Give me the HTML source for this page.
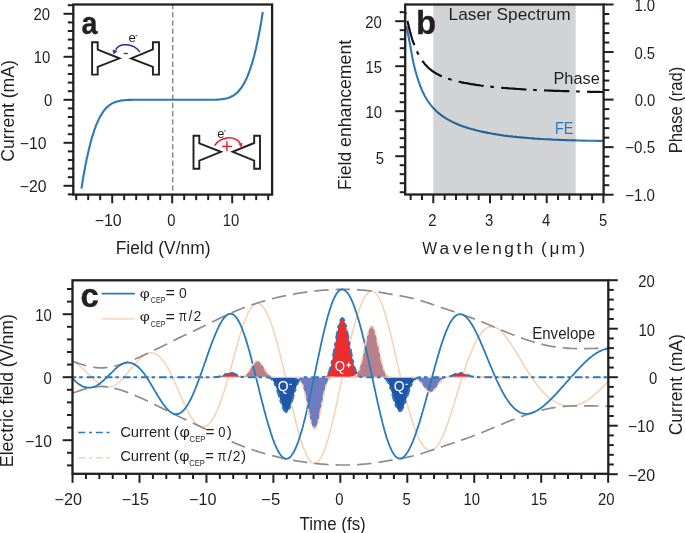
<!DOCTYPE html>
<html><head><meta charset="utf-8"><style>
html,body{margin:0;padding:0;background:#fff;}
svg{display:block;font-family:"Liberation Sans", sans-serif;}
</style></head><body>
<svg xmlns="http://www.w3.org/2000/svg" width="685" height="533" viewBox="0 0 685 533">
<rect width="685" height="533" fill="#fff"/>
<line x1="172.70" y1="4.50" x2="172.70" y2="194.60" stroke="#8C8C8C" stroke-width="1.5" stroke-dasharray="5.5,2.75" stroke-dashoffset="0.7"/>
<path d="M81.4,188.7 L82.2,183.9 L82.9,179.3 L83.7,174.8 L84.5,170.6 L85.2,166.5 L86.0,162.6 L86.7,158.9 L87.5,155.4 L88.3,152.0 L89.0,148.8 L89.8,145.7 L90.5,142.8 L91.3,140.0 L92.0,137.3 L92.8,134.8 L93.6,132.5 L94.3,130.2 L95.1,128.1 L95.8,126.1 L96.6,124.2 L97.4,122.4 L98.1,120.7 L98.9,119.1 L99.6,117.6 L100.4,116.2 L101.2,114.9 L101.9,113.6 L102.7,112.5 L103.4,111.4 L104.2,110.4 L104.9,109.5 L105.7,108.6 L106.5,107.8 L107.2,107.1 L108.0,106.4 L108.7,105.7 L109.5,105.1 L110.3,104.6 L111.0,104.1 L111.8,103.7 L112.5,103.2 L113.3,102.9 L114.1,102.5 L114.8,102.2 L115.6,101.9 L116.3,101.7 L117.1,101.4 L117.8,101.2 L118.6,101.1 L119.4,100.9 L120.1,100.7 L120.9,100.6 L121.6,100.5 L122.4,100.4 L123.2,100.3 L123.9,100.2 L124.7,100.2 L125.4,100.1 L126.2,100.1 L127.0,100.0 L127.7,100.0 L128.5,99.9 L129.2,99.9 L130.0,99.9 L130.7,99.9 L131.5,99.9 L132.3,99.8 L133.0,99.8 L133.8,99.8 L134.5,99.8 L135.3,99.8 L136.1,99.8 L136.8,99.8 L137.6,99.8 L138.3,99.8 L139.1,99.8 L139.9,99.8 L140.6,99.8 L141.4,99.8 L142.1,99.8 L142.9,99.8 L143.7,99.8 L144.4,99.8 L145.2,99.8 L145.9,99.8 L146.7,99.8 L147.4,99.8 L148.2,99.8 L149.0,99.8 L149.7,99.8 L150.5,99.8 L151.2,99.8 L152.0,99.8 L152.8,99.8 L153.5,99.8 L154.3,99.8 L155.0,99.8 L155.8,99.8 L156.6,99.8 L157.3,99.8 L158.1,99.8 L158.8,99.8 L159.6,99.8 L160.3,99.8 L161.1,99.8 L161.9,99.8 L162.6,99.8 L163.4,99.8 L164.1,99.8 L164.9,99.8 L165.7,99.8 L166.4,99.8 L167.2,99.8 L167.9,99.8 L168.7,99.8 L169.5,99.8 L170.2,99.8 L171.0,99.8 L171.7,99.8 L172.5,99.8 L173.2,99.8 L174.0,99.8 L174.8,99.8 L175.5,99.8 L176.3,99.8 L177.0,99.8 L177.8,99.8 L178.6,99.8 L179.3,99.8 L180.1,99.8 L180.8,99.8 L181.6,99.8 L182.4,99.8 L183.1,99.8 L183.9,99.8 L184.6,99.8 L185.4,99.8 L186.1,99.8 L186.9,99.8 L187.7,99.8 L188.4,99.8 L189.2,99.8 L189.9,99.8 L190.7,99.8 L191.5,99.8 L192.2,99.8 L193.0,99.8 L193.7,99.8 L194.5,99.8 L195.3,99.8 L196.0,99.8 L196.8,99.8 L197.5,99.8 L198.3,99.8 L199.1,99.8 L199.8,99.8 L200.6,99.8 L201.3,99.8 L202.1,99.8 L202.8,99.8 L203.6,99.8 L204.4,99.8 L205.1,99.8 L205.9,99.8 L206.6,99.8 L207.4,99.8 L208.2,99.8 L208.9,99.8 L209.7,99.8 L210.4,99.8 L211.2,99.8 L212.0,99.8 L212.7,99.7 L213.5,99.7 L214.2,99.7 L215.0,99.7 L215.7,99.7 L216.5,99.6 L217.3,99.6 L218.0,99.6 L218.8,99.5 L219.5,99.5 L220.3,99.4 L221.1,99.3 L221.8,99.2 L222.6,99.1 L223.3,99.0 L224.1,98.9 L224.9,98.8 L225.6,98.6 L226.4,98.4 L227.1,98.2 L227.9,98.0 L228.6,97.7 L229.4,97.5 L230.2,97.2 L230.9,96.8 L231.7,96.5 L232.4,96.0 L233.2,95.6 L234.0,95.1 L234.7,94.6 L235.5,94.0 L236.2,93.4 L237.0,92.7 L237.8,92.0 L238.5,91.2 L239.3,90.3 L240.0,89.4 L240.8,88.4 L241.6,87.4 L242.3,86.2 L243.1,85.0 L243.8,83.7 L244.6,82.3 L245.3,80.9 L246.1,79.3 L246.9,77.6 L247.6,75.9 L248.4,74.0 L249.1,72.0 L249.9,69.9 L250.7,67.7 L251.4,65.3 L252.2,62.9 L252.9,60.2 L253.7,57.5 L254.5,54.6 L255.2,51.6 L256.0,48.4 L256.7,45.0 L257.5,41.5 L258.2,37.9 L259.0,34.0 L259.8,30.0 L260.5,25.8 L261.3,21.4 L262.0,16.8 L262.8,12.0" fill="none" stroke="#2A7AB9" stroke-width="2.1"/>
<line x1="67.80" y1="194.40" x2="73.30" y2="194.40" stroke="#231F20" stroke-width="2" />
<line x1="63.50" y1="185.80" x2="73.30" y2="185.80" stroke="#231F20" stroke-width="2" />
<line x1="67.80" y1="177.20" x2="73.30" y2="177.20" stroke="#231F20" stroke-width="2" />
<line x1="67.80" y1="168.60" x2="73.30" y2="168.60" stroke="#231F20" stroke-width="2" />
<line x1="67.80" y1="160.00" x2="73.30" y2="160.00" stroke="#231F20" stroke-width="2" />
<line x1="67.80" y1="151.40" x2="73.30" y2="151.40" stroke="#231F20" stroke-width="2" />
<line x1="63.50" y1="142.80" x2="73.30" y2="142.80" stroke="#231F20" stroke-width="2" />
<line x1="67.80" y1="134.20" x2="73.30" y2="134.20" stroke="#231F20" stroke-width="2" />
<line x1="67.80" y1="125.60" x2="73.30" y2="125.60" stroke="#231F20" stroke-width="2" />
<line x1="67.80" y1="117.00" x2="73.30" y2="117.00" stroke="#231F20" stroke-width="2" />
<line x1="67.80" y1="108.40" x2="73.30" y2="108.40" stroke="#231F20" stroke-width="2" />
<line x1="63.50" y1="99.80" x2="73.30" y2="99.80" stroke="#231F20" stroke-width="2" />
<line x1="67.80" y1="91.20" x2="73.30" y2="91.20" stroke="#231F20" stroke-width="2" />
<line x1="67.80" y1="82.60" x2="73.30" y2="82.60" stroke="#231F20" stroke-width="2" />
<line x1="67.80" y1="74.00" x2="73.30" y2="74.00" stroke="#231F20" stroke-width="2" />
<line x1="67.80" y1="65.40" x2="73.30" y2="65.40" stroke="#231F20" stroke-width="2" />
<line x1="63.50" y1="56.80" x2="73.30" y2="56.80" stroke="#231F20" stroke-width="2" />
<line x1="67.80" y1="48.20" x2="73.30" y2="48.20" stroke="#231F20" stroke-width="2" />
<line x1="67.80" y1="39.60" x2="73.30" y2="39.60" stroke="#231F20" stroke-width="2" />
<line x1="67.80" y1="31.00" x2="73.30" y2="31.00" stroke="#231F20" stroke-width="2" />
<line x1="67.80" y1="22.40" x2="73.30" y2="22.40" stroke="#231F20" stroke-width="2" />
<line x1="63.50" y1="13.80" x2="73.30" y2="13.80" stroke="#231F20" stroke-width="2" />
<line x1="67.80" y1="5.20" x2="73.30" y2="5.20" stroke="#231F20" stroke-width="2" />
<line x1="76.20" y1="194.60" x2="76.20" y2="200.10" stroke="#231F20" stroke-width="2" />
<line x1="88.20" y1="194.60" x2="88.20" y2="200.10" stroke="#231F20" stroke-width="2" />
<line x1="100.20" y1="194.60" x2="100.20" y2="200.10" stroke="#231F20" stroke-width="2" />
<line x1="112.20" y1="194.60" x2="112.20" y2="203.30" stroke="#231F20" stroke-width="2" />
<line x1="124.20" y1="194.60" x2="124.20" y2="200.10" stroke="#231F20" stroke-width="2" />
<line x1="136.20" y1="194.60" x2="136.20" y2="200.10" stroke="#231F20" stroke-width="2" />
<line x1="148.20" y1="194.60" x2="148.20" y2="200.10" stroke="#231F20" stroke-width="2" />
<line x1="160.20" y1="194.60" x2="160.20" y2="200.10" stroke="#231F20" stroke-width="2" />
<line x1="172.20" y1="194.60" x2="172.20" y2="203.30" stroke="#231F20" stroke-width="2" />
<line x1="184.20" y1="194.60" x2="184.20" y2="200.10" stroke="#231F20" stroke-width="2" />
<line x1="196.20" y1="194.60" x2="196.20" y2="200.10" stroke="#231F20" stroke-width="2" />
<line x1="208.20" y1="194.60" x2="208.20" y2="200.10" stroke="#231F20" stroke-width="2" />
<line x1="220.20" y1="194.60" x2="220.20" y2="200.10" stroke="#231F20" stroke-width="2" />
<line x1="232.20" y1="194.60" x2="232.20" y2="203.30" stroke="#231F20" stroke-width="2" />
<line x1="244.20" y1="194.60" x2="244.20" y2="200.10" stroke="#231F20" stroke-width="2" />
<line x1="256.20" y1="194.60" x2="256.20" y2="200.10" stroke="#231F20" stroke-width="2" />
<line x1="268.20" y1="194.60" x2="268.20" y2="200.10" stroke="#231F20" stroke-width="2" />
<rect x="73.3" y="4.5" width="198.80" height="190.10" fill="none" stroke="#231F20" stroke-width="2.3"/>
<text x="33.56" y="19.80" font-size="15.8" fill="#231F20" textLength="16.52" lengthAdjust="spacingAndGlyphs">20</text>
<text x="33.81" y="62.80" font-size="15.8" fill="#231F20" textLength="16.52" lengthAdjust="spacingAndGlyphs">10</text>
<text x="43.92" y="105.80" font-size="15.8" fill="#231F20" textLength="8.26" lengthAdjust="spacingAndGlyphs">0</text>
<text x="19.82" y="149.20" font-size="15.8" fill="#231F20" textLength="26.69" lengthAdjust="spacingAndGlyphs">−10</text>
<text x="19.82" y="192.20" font-size="15.8" fill="#231F20" textLength="26.69" lengthAdjust="spacingAndGlyphs">−20</text>
<text x="94.71" y="226.30" font-size="15.8" fill="#231F20" textLength="27.01" lengthAdjust="spacingAndGlyphs">−10</text>
<text x="167.32" y="226.30" font-size="15.8" fill="#231F20" textLength="8.26" lengthAdjust="spacingAndGlyphs">0</text>
<text x="222.86" y="226.30" font-size="15.8" fill="#231F20" textLength="16.52" lengthAdjust="spacingAndGlyphs">10</text>
<text x="115.67" y="253.90" font-size="17.5" fill="#231F20" textLength="94.91" lengthAdjust="spacingAndGlyphs">Field (V/nm)</text>
<text transform="translate(13.50,111.10) rotate(-90)" x="-50.69" y="0" font-size="17.5" fill="#231F20" textLength="101.58" lengthAdjust="spacingAndGlyphs">Current (mA)</text>
<text x="81.61" y="34.45" font-size="32.1" fill="#231F20" font-weight="bold" stroke="#231F20" stroke-width="0.35" textLength="15.96" lengthAdjust="spacingAndGlyphs">a</text>
<path d="M92.10,42.30 L97.70,42.30 L97.70,49.60 L119.50,58.30 L97.70,66.90 L97.70,74.60 L92.10,74.60 Z" fill="none" stroke="#231F20" stroke-width="1.9" stroke-linejoin="miter"/>
<path d="M159.00,42.30 L152.90,42.30 L152.90,49.40 L131.10,58.40 L152.90,66.90 L152.90,74.60 L159.00,74.60 Z" fill="none" stroke="#231F20" stroke-width="1.9" stroke-linejoin="miter"/>
<path d="M139.8,52.1 C134,43.2 119,42 115.6,50.2" fill="none" stroke="#2E3192" stroke-width="1.5"/>
<path d="M113.6,53.9 L112.9,49.9 L117.0,51.3 Z" fill="#2E3192" stroke="#2E3192" stroke-width="0.6" stroke-linejoin="round"/>
<line x1="123.60" y1="53.50" x2="127.80" y2="53.50" stroke="#2E3192" stroke-width="1.3" />
<text x="128.44" y="42.20" font-size="13.2" fill="#231F20">e</text>
<line x1="135.60" y1="35.70" x2="137.20" y2="35.70" stroke="#231F20" stroke-width="0.9" />
<path d="M193.50,135.70 L199.30,135.70 L199.30,143.30 L221.00,151.80 L199.30,160.60 L199.30,168.80 L193.50,168.80 Z" fill="none" stroke="#231F20" stroke-width="1.9" stroke-linejoin="miter"/>
<path d="M260.00,135.70 L254.20,135.70 L254.20,143.00 L232.60,151.80 L254.20,160.60 L254.20,168.80 L260.00,168.80 Z" fill="none" stroke="#231F20" stroke-width="1.9" stroke-linejoin="miter"/>
<path d="M214.6,145.7 C219,138 234,133.5 240.6,144.0" fill="none" stroke="#ED1C24" stroke-width="1.5"/>
<path d="M241.2,147.3 L239.0,144.0 L242.3,143.6 Z" fill="#ED1C24" stroke="#ED1C24" stroke-width="0.6" stroke-linejoin="round"/>
<line x1="222.10" y1="146.40" x2="232.00" y2="146.40" stroke="#ED1C24" stroke-width="1.4" />
<line x1="226.90" y1="141.20" x2="226.90" y2="151.10" stroke="#ED1C24" stroke-width="1.4" />
<text x="217.35" y="137.70" font-size="12.8" fill="#231F20">e</text>
<line x1="224.00" y1="130.80" x2="225.40" y2="130.80" stroke="#231F20" stroke-width="0.9" />
<defs><clipPath id="cb"><rect x="405.20" y="-3.50" width="198.40" height="198.00"/></clipPath><clipPath id="cc"><rect x="72.5" y="280.3" width="535.8" height="193.5"/></clipPath></defs>
<path clip-path="url(#cb)" d="M406.6,26.4 L406.9,28.4 L407.3,30.3 L407.6,32.1 L408.0,33.9 L408.3,35.6 L408.7,37.3 L409.0,39.0 L409.3,40.7 L409.7,42.5 L410.0,44.3 L410.4,46.2 L410.7,48.2 L411.1,50.2 L411.4,52.2 L411.8,54.1 L412.1,56.0 L412.4,57.9 L412.8,59.7 L413.1,61.3 L413.5,62.9 L413.8,64.4 L414.2,65.9 L414.5,67.3 L414.9,68.7 L415.2,70.0 L415.5,71.2 L415.9,72.5 L416.2,73.7 L416.6,74.8 L416.9,76.0 L417.3,77.1 L417.6,78.2 L418.0,79.3 L418.3,80.4 L418.6,81.4 L419.0,82.5 L419.3,83.4 L419.7,84.4 L420.0,85.3 L420.4,86.2 L420.7,87.1 L421.1,88.0 L421.4,88.8 L421.7,89.6 L422.1,90.4 L422.4,91.2 L422.8,91.9 L423.1,92.7 L423.5,93.4 L423.8,94.1 L424.2,94.7 L424.5,95.4 L424.8,96.0 L425.2,96.7 L425.5,97.3 L425.9,97.9 L426.2,98.5 L426.6,99.0 L426.9,99.6 L427.3,100.1 L427.6,100.7 L427.9,101.2 L428.3,101.7 L428.6,102.2 L429.0,102.7 L429.3,103.2 L429.7,103.6 L430.0,104.1 L430.4,104.5 L430.7,105.0 L431.0,105.4 L431.4,105.8 L431.7,106.2 L432.1,106.6 L432.4,107.0 L432.8,107.4 L433.1,107.8 L433.5,108.2 L433.8,108.6 L434.1,108.9 L434.5,109.3 L434.8,109.6 L435.2,110.0 L435.5,110.3 L435.9,110.7 L436.2,111.0 L436.6,111.3 L436.9,111.6 L437.2,111.9 L437.6,112.2 L437.9,112.5 L438.3,112.8 L438.6,113.1 L439.0,113.4 L439.3,113.7 L439.7,114.0 L440.0,114.2 L440.5,114.6 L442.9,116.3 L445.2,117.9 L447.6,119.3 L450.0,120.6 L452.3,121.9 L454.7,123.0 L457.0,124.0 L459.4,125.0 L461.8,125.9 L464.1,126.7 L466.5,127.5 L468.9,128.3 L471.2,129.0 L473.6,129.6 L476.0,130.3 L478.3,130.8 L480.7,131.4 L483.0,131.9 L485.4,132.4 L487.8,132.9 L490.1,133.3 L492.5,133.7 L494.9,134.1 L497.2,134.5 L499.6,134.9 L502.0,135.2 L504.3,135.6 L506.7,135.9 L509.0,136.2 L511.4,136.4 L513.8,136.7 L516.1,136.9 L518.5,137.2 L520.9,137.4 L523.2,137.6 L525.6,137.8 L528.0,138.0 L530.3,138.2 L532.7,138.4 L535.1,138.6 L537.4,138.7 L539.8,138.9 L542.1,139.0 L544.5,139.2 L546.9,139.3 L549.2,139.4 L551.6,139.5 L554.0,139.7 L556.3,139.8 L558.7,139.9 L561.1,140.0 L563.4,140.0 L565.8,140.1 L568.1,140.2 L570.5,140.3 L572.9,140.4 L575.2,140.4 L577.6,140.5 L580.0,140.5 L582.3,140.6 L584.7,140.6 L587.1,140.7 L589.4,140.7 L591.8,140.8 L594.1,140.8 L596.5,140.9 L598.9,140.9 L601.2,140.9 L603.6,140.9" fill="none" stroke="#2A7AB9" stroke-width="2.1"/>
<path clip-path="url(#cb)" d="M405.9,12.7 L406.2,14.6 L406.6,16.4 L406.9,18.1 L407.3,19.8 L407.6,21.4 L408.0,23.0 L408.3,24.6 L408.7,26.1 L409.0,27.5 L409.3,28.9 L409.7,30.3 L410.0,31.6 L410.4,32.9 L410.7,34.2 L411.1,35.4 L411.4,36.5 L411.8,37.7 L412.1,38.8 L412.4,39.8 L412.8,40.9 L413.1,41.9 L413.5,42.9 L413.8,43.8 L414.2,44.7 L414.5,45.6 L414.9,46.5 L415.2,47.4 L415.5,48.2 L415.9,49.0 L416.2,49.8 L416.6,50.5 L416.9,51.3 L417.3,52.0 L417.6,52.7 L418.0,53.4 L418.3,54.1 L418.6,54.7 L419.0,55.3 L419.3,56.0 L419.7,56.6 L420.0,57.2 L420.4,57.7 L420.7,58.3 L421.1,58.8 L421.4,59.4 L421.7,59.9 L422.1,60.4 L422.4,60.9 L422.8,61.4 L423.1,61.8 L423.5,62.3 L423.8,62.7 L424.2,63.2 L424.5,63.6 L424.8,64.0 L425.2,64.4 L425.5,64.8 L425.9,65.2 L426.2,65.6 L426.6,65.9 L426.9,66.3 L427.3,66.6 L427.6,67.0 L427.9,67.3 L428.3,67.6 L428.6,68.0 L429.0,68.3 L429.3,68.6 L429.7,68.9 L430.0,69.2 L430.4,69.4 L430.7,69.7 L431.0,70.0 L431.4,70.3 L431.7,70.5 L432.1,70.8 L432.4,71.0 L432.8,71.3 L433.1,71.5 L433.5,71.7 L433.8,72.0 L434.1,72.2 L434.5,72.4 L434.8,72.6 L435.2,72.9 L435.5,73.1 L435.9,73.3 L436.2,73.5 L436.6,73.7 L436.9,73.9 L437.2,74.1 L437.6,74.2 L437.9,74.4 L438.3,74.6 L438.6,74.8 L439.0,75.0 L439.3,75.1 L439.7,75.3 L440.0,75.5 L440.5,75.7 L442.9,76.7 L445.2,77.7 L447.6,78.5 L450.0,79.3 L452.3,80.0 L454.7,80.6 L457.0,81.2 L459.4,81.8 L461.8,82.3 L464.1,82.8 L466.5,83.2 L468.9,83.7 L471.2,84.1 L473.6,84.4 L476.0,84.8 L478.3,85.1 L480.7,85.5 L483.0,85.8 L485.4,86.1 L487.8,86.3 L490.1,86.6 L492.5,86.9 L494.9,87.1 L497.2,87.3 L499.6,87.6 L502.0,87.8 L504.3,88.0 L506.7,88.2 L509.0,88.4 L511.4,88.5 L513.8,88.7 L516.1,88.9 L518.5,89.0 L520.9,89.2 L523.2,89.3 L525.6,89.5 L528.0,89.6 L530.3,89.7 L532.7,89.9 L535.1,90.0 L537.4,90.1 L539.8,90.2 L542.1,90.3 L544.5,90.4 L546.9,90.5 L549.2,90.6 L551.6,90.7 L554.0,90.8 L556.3,90.9 L558.7,90.9 L561.1,91.0 L563.4,91.1 L565.8,91.2 L568.1,91.2 L570.5,91.3 L572.9,91.4 L575.2,91.4 L577.6,91.5 L580.0,91.5 L582.3,91.6 L584.7,91.7 L587.1,91.7 L589.4,91.8 L591.8,91.8 L594.1,91.9 L596.5,91.9 L598.9,91.9 L601.2,92.0 L603.6,92.0" fill="none" stroke="#111" stroke-width="2.2" stroke-dasharray="25.3,6.8,3.6,7.3" stroke-dashoffset="34.71"/>
<rect x="433.30" y="4.5" width="142.40" height="190.0" fill="#D1D3D4" style="mix-blend-mode:multiply"/>
<text x="448.58" y="20.00" font-size="16.6" fill="#231F20" textLength="121.96" lengthAdjust="spacingAndGlyphs">Laser Spectrum</text>
<text x="553.46" y="84.10" font-size="16" fill="#231F20" textLength="46.26" lengthAdjust="spacingAndGlyphs">Phase</text>
<text x="555.02" y="134.10" font-size="17.4" fill="#2A7AB9" textLength="18.40" lengthAdjust="spacingAndGlyphs">FE</text>
<line x1="399.70" y1="192.20" x2="405.20" y2="192.20" stroke="#231F20" stroke-width="2" />
<line x1="399.70" y1="183.20" x2="405.20" y2="183.20" stroke="#231F20" stroke-width="2" />
<line x1="399.70" y1="174.20" x2="405.20" y2="174.20" stroke="#231F20" stroke-width="2" />
<line x1="399.70" y1="165.20" x2="405.20" y2="165.20" stroke="#231F20" stroke-width="2" />
<line x1="395.20" y1="156.20" x2="405.20" y2="156.20" stroke="#231F20" stroke-width="2" />
<line x1="399.70" y1="147.20" x2="405.20" y2="147.20" stroke="#231F20" stroke-width="2" />
<line x1="399.70" y1="138.20" x2="405.20" y2="138.20" stroke="#231F20" stroke-width="2" />
<line x1="399.70" y1="129.20" x2="405.20" y2="129.20" stroke="#231F20" stroke-width="2" />
<line x1="399.70" y1="120.20" x2="405.20" y2="120.20" stroke="#231F20" stroke-width="2" />
<line x1="395.20" y1="111.20" x2="405.20" y2="111.20" stroke="#231F20" stroke-width="2" />
<line x1="399.70" y1="102.20" x2="405.20" y2="102.20" stroke="#231F20" stroke-width="2" />
<line x1="399.70" y1="93.20" x2="405.20" y2="93.20" stroke="#231F20" stroke-width="2" />
<line x1="399.70" y1="84.20" x2="405.20" y2="84.20" stroke="#231F20" stroke-width="2" />
<line x1="399.70" y1="75.20" x2="405.20" y2="75.20" stroke="#231F20" stroke-width="2" />
<line x1="395.20" y1="66.20" x2="405.20" y2="66.20" stroke="#231F20" stroke-width="2" />
<line x1="399.70" y1="57.20" x2="405.20" y2="57.20" stroke="#231F20" stroke-width="2" />
<line x1="399.70" y1="48.20" x2="405.20" y2="48.20" stroke="#231F20" stroke-width="2" />
<line x1="399.70" y1="39.20" x2="405.20" y2="39.20" stroke="#231F20" stroke-width="2" />
<line x1="399.70" y1="30.20" x2="405.20" y2="30.20" stroke="#231F20" stroke-width="2" />
<line x1="395.20" y1="21.20" x2="405.20" y2="21.20" stroke="#231F20" stroke-width="2" />
<line x1="399.70" y1="12.20" x2="405.20" y2="12.20" stroke="#231F20" stroke-width="2" />
<line x1="410.62" y1="194.50" x2="410.62" y2="200.00" stroke="#231F20" stroke-width="2" />
<line x1="421.96" y1="194.50" x2="421.96" y2="200.00" stroke="#231F20" stroke-width="2" />
<line x1="433.30" y1="194.50" x2="433.30" y2="203.20" stroke="#231F20" stroke-width="2" />
<line x1="444.64" y1="194.50" x2="444.64" y2="200.00" stroke="#231F20" stroke-width="2" />
<line x1="455.98" y1="194.50" x2="455.98" y2="200.00" stroke="#231F20" stroke-width="2" />
<line x1="467.32" y1="194.50" x2="467.32" y2="200.00" stroke="#231F20" stroke-width="2" />
<line x1="478.66" y1="194.50" x2="478.66" y2="200.00" stroke="#231F20" stroke-width="2" />
<line x1="490.00" y1="194.50" x2="490.00" y2="203.20" stroke="#231F20" stroke-width="2" />
<line x1="501.34" y1="194.50" x2="501.34" y2="200.00" stroke="#231F20" stroke-width="2" />
<line x1="512.68" y1="194.50" x2="512.68" y2="200.00" stroke="#231F20" stroke-width="2" />
<line x1="524.02" y1="194.50" x2="524.02" y2="200.00" stroke="#231F20" stroke-width="2" />
<line x1="535.36" y1="194.50" x2="535.36" y2="200.00" stroke="#231F20" stroke-width="2" />
<line x1="546.70" y1="194.50" x2="546.70" y2="203.20" stroke="#231F20" stroke-width="2" />
<line x1="558.04" y1="194.50" x2="558.04" y2="200.00" stroke="#231F20" stroke-width="2" />
<line x1="569.38" y1="194.50" x2="569.38" y2="200.00" stroke="#231F20" stroke-width="2" />
<line x1="580.72" y1="194.50" x2="580.72" y2="200.00" stroke="#231F20" stroke-width="2" />
<line x1="592.06" y1="194.50" x2="592.06" y2="200.00" stroke="#231F20" stroke-width="2" />
<line x1="603.40" y1="194.50" x2="603.40" y2="203.20" stroke="#231F20" stroke-width="2" />
<line x1="603.60" y1="194.70" x2="613.60" y2="194.70" stroke="#231F20" stroke-width="2" />
<line x1="603.60" y1="185.19" x2="609.30" y2="185.19" stroke="#231F20" stroke-width="2" />
<line x1="603.60" y1="175.68" x2="609.30" y2="175.68" stroke="#231F20" stroke-width="2" />
<line x1="603.60" y1="166.17" x2="609.30" y2="166.17" stroke="#231F20" stroke-width="2" />
<line x1="603.60" y1="156.66" x2="609.30" y2="156.66" stroke="#231F20" stroke-width="2" />
<line x1="603.60" y1="147.15" x2="613.60" y2="147.15" stroke="#231F20" stroke-width="2" />
<line x1="603.60" y1="137.64" x2="609.30" y2="137.64" stroke="#231F20" stroke-width="2" />
<line x1="603.60" y1="128.13" x2="609.30" y2="128.13" stroke="#231F20" stroke-width="2" />
<line x1="603.60" y1="118.62" x2="609.30" y2="118.62" stroke="#231F20" stroke-width="2" />
<line x1="603.60" y1="109.11" x2="609.30" y2="109.11" stroke="#231F20" stroke-width="2" />
<line x1="603.60" y1="99.60" x2="613.60" y2="99.60" stroke="#231F20" stroke-width="2" />
<line x1="603.60" y1="90.09" x2="609.30" y2="90.09" stroke="#231F20" stroke-width="2" />
<line x1="603.60" y1="80.58" x2="609.30" y2="80.58" stroke="#231F20" stroke-width="2" />
<line x1="603.60" y1="71.07" x2="609.30" y2="71.07" stroke="#231F20" stroke-width="2" />
<line x1="603.60" y1="61.56" x2="609.30" y2="61.56" stroke="#231F20" stroke-width="2" />
<line x1="603.60" y1="52.05" x2="613.60" y2="52.05" stroke="#231F20" stroke-width="2" />
<line x1="603.60" y1="42.54" x2="609.30" y2="42.54" stroke="#231F20" stroke-width="2" />
<line x1="603.60" y1="33.03" x2="609.30" y2="33.03" stroke="#231F20" stroke-width="2" />
<line x1="603.60" y1="23.52" x2="609.30" y2="23.52" stroke="#231F20" stroke-width="2" />
<line x1="603.60" y1="14.01" x2="609.30" y2="14.01" stroke="#231F20" stroke-width="2" />
<line x1="603.60" y1="4.50" x2="613.60" y2="4.50" stroke="#231F20" stroke-width="2" />
<rect x="405.2" y="4.5" width="198.40" height="190.00" fill="none" stroke="#231F20" stroke-width="2.3"/>
<text x="365.31" y="27.80" font-size="15.8" fill="#231F20" textLength="16.52" lengthAdjust="spacingAndGlyphs">20</text>
<text x="365.44" y="72.60" font-size="15.8" fill="#231F20" textLength="16.52" lengthAdjust="spacingAndGlyphs">15</text>
<text x="365.41" y="118.10" font-size="15.8" fill="#231F20" textLength="16.52" lengthAdjust="spacingAndGlyphs">10</text>
<text x="375.63" y="163.60" font-size="15.8" fill="#231F20" textLength="8.26" lengthAdjust="spacingAndGlyphs">5</text>
<text x="428.37" y="226.10" font-size="15.8" fill="#231F20" textLength="8.26" lengthAdjust="spacingAndGlyphs">2</text>
<text x="485.11" y="226.10" font-size="15.8" fill="#231F20" textLength="8.26" lengthAdjust="spacingAndGlyphs">3</text>
<text x="541.92" y="226.10" font-size="15.8" fill="#231F20" textLength="8.26" lengthAdjust="spacingAndGlyphs">4</text>
<text x="598.88" y="226.10" font-size="15.8" fill="#231F20" textLength="8.26" lengthAdjust="spacingAndGlyphs">5</text>
<text x="634.45" y="10.60" font-size="15.8" fill="#231F20" textLength="20.65" lengthAdjust="spacingAndGlyphs">1.0</text>
<text x="634.45" y="59.00" font-size="15.8" fill="#231F20" textLength="20.65" lengthAdjust="spacingAndGlyphs">0.5</text>
<text x="634.73" y="106.20" font-size="15.8" fill="#231F20" textLength="20.65" lengthAdjust="spacingAndGlyphs">0.0</text>
<text x="625.26" y="153.20" font-size="15.8" fill="#231F20" textLength="29.78" lengthAdjust="spacingAndGlyphs">−0.5</text>
<text x="625.26" y="201.10" font-size="15.8" fill="#231F20" textLength="29.73" lengthAdjust="spacingAndGlyphs">−1.0</text>
<text x="422.21" y="254.30" font-size="17.3" fill="#231F20" textLength="14.77" lengthAdjust="spacingAndGlyphs">W</text>
<text x="439.47" y="254.30" font-size="17.3" fill="#231F20">a</text>
<text x="452.43" y="254.30" font-size="17.3" fill="#231F20">v</text>
<text x="463.16" y="254.30" font-size="17.3" fill="#231F20">e</text>
<text x="475.52" y="254.30" font-size="17.3" fill="#231F20">l</text>
<text x="480.31" y="254.30" font-size="17.3" fill="#231F20">e</text>
<text x="492.33" y="254.30" font-size="17.3" fill="#231F20">n</text>
<text x="504.13" y="254.30" font-size="17.3" fill="#231F20">g</text>
<text x="516.58" y="254.30" font-size="17.3" fill="#231F20">t</text>
<text x="523.70" y="254.30" font-size="17.3" fill="#231F20">h</text>
<text x="541.08" y="254.30" font-size="17.3" fill="#231F20">(</text>
<text x="549.47" y="254.30" font-size="17.3" fill="#231F20">μ</text>
<text x="561.59" y="254.30" font-size="17.3" fill="#231F20">m</text>
<text x="579.26" y="254.30" font-size="17.3" fill="#231F20">)</text>
<text transform="translate(351.30,114.30) rotate(-90)" x="-75.75" y="0" font-size="17.5" fill="#231F20" textLength="150.18" lengthAdjust="spacingAndGlyphs">Field enhancement</text>
<text transform="translate(681.60,109.85) rotate(-90)" x="-43.51" y="0" font-size="17.5" fill="#231F20" textLength="86.69" lengthAdjust="spacingAndGlyphs">Phase (rad)</text>
<text x="416.03" y="34.30" font-size="32.8" fill="#231F20" font-weight="bold" stroke="#231F20" stroke-width="0.35" textLength="20.12" lengthAdjust="spacingAndGlyphs">b</text>
<path clip-path="url(#cc)" d="M72.6,361.3 L73.2,361.6 L73.9,361.9 L74.6,362.3 L75.2,362.7 L75.9,363.1 L76.6,363.6 L77.2,364.1 L77.9,364.6 L78.6,365.1 L79.2,365.7 L79.9,366.2 L80.6,366.8 L81.3,367.4 L81.9,368.0 L82.6,368.6 L83.3,369.2 L83.9,369.8 L84.6,370.5 L85.3,371.1 L85.9,371.7 L86.6,372.4 L87.3,373.0 L87.9,373.7 L88.6,374.3 L89.3,374.9 L90.0,375.6 L90.6,376.2 L91.3,376.8 L92.0,377.4 L92.6,378.1 L93.3,378.7 L94.0,379.3 L94.6,379.9 L95.3,380.5 L96.0,381.1 L96.7,381.7 L97.3,382.2 L98.0,382.7 L98.7,383.2 L99.3,383.7 L100.0,384.2 L100.7,384.6 L101.3,385.0 L102.0,385.3 L102.7,385.7 L103.3,386.0 L104.0,386.2 L104.7,386.4 L105.4,386.6 L106.0,386.8 L106.7,386.9 L107.4,386.9 L108.0,387.0 L108.7,387.0 L109.4,387.0 L110.0,386.9 L110.7,386.8 L111.4,386.6 L112.1,386.4 L112.7,386.2 L113.4,385.9 L114.1,385.6 L114.7,385.3 L115.4,384.9 L116.1,384.4 L116.7,384.0 L117.4,383.5 L118.1,382.9 L118.7,382.4 L119.4,381.8 L120.1,381.1 L120.8,380.5 L121.4,379.8 L122.1,379.1 L122.8,378.4 L123.4,377.6 L124.1,376.9 L124.8,376.1 L125.4,375.4 L126.1,374.6 L126.8,373.8 L127.4,373.0 L128.1,372.2 L128.8,371.4 L129.5,370.6 L130.1,369.8 L130.8,369.0 L131.5,368.2 L132.1,367.3 L132.8,366.5 L133.5,365.8 L134.1,365.0 L134.8,364.2 L135.5,363.4 L136.2,362.7 L136.8,361.9 L137.5,361.2 L138.2,360.5 L138.8,359.8 L139.5,359.1 L140.2,358.5 L140.8,357.9 L141.5,357.3 L142.2,356.7 L142.8,356.2 L143.5,355.7 L144.2,355.2 L144.9,354.8 L145.5,354.4 L146.2,354.0 L146.9,353.7 L147.5,353.4 L148.2,353.2 L148.9,353.0 L149.5,352.9 L150.2,352.8 L150.9,352.7 L151.6,352.7 L152.2,352.8 L152.9,352.9 L153.6,353.1 L154.2,353.3 L154.9,353.5 L155.6,353.8 L156.2,354.2 L156.9,354.6 L157.6,355.0 L158.2,355.5 L158.9,356.1 L159.6,356.7 L160.3,357.4 L160.9,358.1 L161.6,358.8 L162.3,359.6 L162.9,360.5 L163.6,361.4 L164.3,362.3 L164.9,363.3 L165.6,364.4 L166.3,365.5 L166.9,366.6 L167.6,367.7 L168.3,368.9 L169.0,370.2 L169.6,371.5 L170.3,372.8 L171.0,374.1 L171.6,375.5 L172.3,376.9 L173.0,378.3 L173.6,379.8 L174.3,381.3 L175.0,382.8 L175.7,384.3 L176.3,385.8 L177.0,387.3 L177.7,388.9 L178.3,390.4 L179.0,392.0 L179.7,393.5 L180.3,395.0 L181.0,396.6 L181.7,398.1 L182.3,399.6 L183.0,401.1 L183.7,402.6 L184.4,404.0 L185.0,405.5 L185.7,406.9 L186.4,408.2 L187.0,409.6 L187.7,410.9 L188.4,412.2 L189.0,413.4 L189.7,414.6 L190.4,415.8 L191.1,416.9 L191.7,417.9 L192.4,419.0 L193.1,419.9 L193.7,420.8 L194.4,421.7 L195.1,422.5 L195.7,423.2 L196.4,423.9 L197.1,424.5 L197.7,425.1 L198.4,425.6 L199.1,426.0 L199.8,426.3 L200.4,426.6 L201.1,426.8 L201.8,427.0 L202.4,427.1 L203.1,427.1 L203.8,427.0 L204.4,426.8 L205.1,426.6 L205.8,426.3 L206.5,426.0 L207.1,425.6 L207.8,425.0 L208.5,424.5 L209.1,423.8 L209.8,423.1 L210.5,422.3 L211.1,421.4 L211.8,420.5 L212.5,419.4 L213.1,418.4 L213.8,417.2 L214.5,416.0 L215.2,414.7 L215.8,413.3 L216.5,411.8 L217.2,410.3 L217.8,408.8 L218.5,407.1 L219.2,405.4 L219.8,403.7 L220.5,401.9 L221.2,400.0 L221.8,398.1 L222.5,396.1 L223.2,394.1 L223.9,392.0 L224.5,389.9 L225.2,387.7 L225.9,385.5 L226.5,383.2 L227.2,380.9 L227.9,378.6 L228.5,376.3 L229.2,373.9 L229.9,371.5 L230.6,369.1 L231.2,366.6 L231.9,364.2 L232.6,361.7 L233.2,359.2 L233.9,356.8 L234.6,354.3 L235.2,351.9 L235.9,349.5 L236.6,347.0 L237.2,344.7 L237.9,342.3 L238.6,340.0 L239.3,337.7 L239.9,335.5 L240.6,333.3 L241.3,331.1 L241.9,329.0 L242.6,327.0 L243.3,325.0 L243.9,323.1 L244.6,321.3 L245.3,319.5 L246.0,317.8 L246.6,316.2 L247.3,314.7 L248.0,313.3 L248.6,311.9 L249.3,310.7 L250.0,309.5 L250.6,308.5 L251.3,307.5 L252.0,306.6 L252.6,305.8 L253.3,305.2 L254.0,304.6 L254.7,304.1 L255.3,303.7 L256.0,303.5 L256.7,303.3 L257.3,303.2 L258.0,303.3 L258.7,303.4 L259.3,303.7 L260.0,304.0 L260.7,304.4 L261.3,305.0 L262.0,305.6 L262.7,306.3 L263.4,307.2 L264.0,308.1 L264.7,309.1 L265.4,310.2 L266.0,311.4 L266.7,312.7 L267.4,314.1 L268.0,315.5 L268.7,317.1 L269.4,318.7 L270.1,320.4 L270.7,322.2 L271.4,324.1 L272.1,326.0 L272.7,328.0 L273.4,330.1 L274.1,332.3 L274.7,334.5 L275.4,336.8 L276.1,339.1 L276.7,341.6 L277.4,344.0 L278.1,346.6 L278.8,349.1 L279.4,351.8 L280.1,354.5 L280.8,357.2 L281.4,359.9 L282.1,362.7 L282.8,365.6 L283.4,368.4 L284.1,371.3 L284.8,374.3 L285.5,377.2 L286.1,380.2 L286.8,383.1 L287.5,386.1 L288.1,389.1 L288.8,392.0 L289.5,395.0 L290.1,397.9 L290.8,400.9 L291.5,403.8 L292.1,406.7 L292.8,409.5 L293.5,412.3 L294.2,415.1 L294.8,417.8 L295.5,420.5 L296.2,423.2 L296.8,425.8 L297.5,428.3 L298.2,430.8 L298.8,433.2 L299.5,435.5 L300.2,437.8 L300.8,440.0 L301.5,442.1 L302.2,444.1 L302.9,446.1 L303.5,447.9 L304.2,449.7 L304.9,451.3 L305.5,452.9 L306.2,454.4 L306.9,455.7 L307.5,457.0 L308.2,458.1 L308.9,459.2 L309.6,460.1 L310.2,460.9 L310.9,461.6 L311.6,462.2 L312.2,462.7 L312.9,463.0 L313.6,463.2 L314.2,463.3 L314.9,463.3 L315.6,463.2 L316.2,463.0 L316.9,462.6 L317.6,462.1 L318.3,461.5 L318.9,460.7 L319.6,459.9 L320.3,458.9 L320.9,457.8 L321.6,456.5 L322.3,455.2 L322.9,453.7 L323.6,452.2 L324.3,450.5 L325.0,448.7 L325.6,446.8 L326.3,444.8 L327.0,442.7 L327.6,440.5 L328.3,438.2 L329.0,435.9 L329.6,433.4 L330.3,430.8 L331.0,428.2 L331.6,425.5 L332.3,422.8 L333.0,419.9 L333.7,417.1 L334.3,414.1 L335.0,411.1 L335.7,408.1 L336.3,405.1 L337.0,402.0 L337.7,398.8 L338.3,395.7 L339.0,392.5 L339.7,389.3 L340.4,386.1 L341.0,382.9 L341.7,379.7 L342.4,376.6 L343.0,373.4 L343.7,370.2 L344.4,367.1 L345.0,364.0 L345.7,360.9 L346.4,357.9 L347.0,354.9 L347.7,351.9 L348.4,348.9 L349.1,346.0 L349.7,343.2 L350.4,340.4 L351.1,337.7 L351.7,335.0 L352.4,332.3 L353.1,329.8 L353.7,327.3 L354.4,324.8 L355.1,322.4 L355.7,320.1 L356.4,317.9 L357.1,315.7 L357.8,313.7 L358.4,311.7 L359.1,309.7 L359.8,307.9 L360.4,306.1 L361.1,304.5 L361.8,302.9 L362.4,301.4 L363.1,300.0 L363.8,298.7 L364.5,297.5 L365.1,296.4 L365.8,295.4 L366.5,294.5 L367.1,293.7 L367.8,293.0 L368.5,292.4 L369.1,291.9 L369.8,291.6 L370.5,291.3 L371.1,291.2 L371.8,291.1 L372.5,291.2 L373.2,291.4 L373.8,291.7 L374.5,292.1 L375.2,292.6 L375.8,293.3 L376.5,294.1 L377.2,295.0 L377.8,296.0 L378.5,297.1 L379.2,298.3 L379.9,299.7 L380.5,301.1 L381.2,302.7 L381.9,304.3 L382.5,306.1 L383.2,308.0 L383.9,309.9 L384.5,312.0 L385.2,314.1 L385.9,316.4 L386.5,318.7 L387.2,321.1 L387.9,323.5 L388.6,326.0 L389.2,328.6 L389.9,331.3 L390.6,334.0 L391.2,336.7 L391.9,339.5 L392.6,342.3 L393.2,345.2 L393.9,348.0 L394.6,350.9 L395.2,353.9 L395.9,356.8 L396.6,359.7 L397.3,362.7 L397.9,365.6 L398.6,368.5 L399.3,371.4 L399.9,374.3 L400.6,377.2 L401.3,380.0 L401.9,382.9 L402.6,385.7 L403.3,388.4 L404.0,391.1 L404.6,393.8 L405.3,396.5 L406.0,399.1 L406.6,401.7 L407.3,404.2 L408.0,406.6 L408.6,409.1 L409.3,411.4 L410.0,413.7 L410.6,416.0 L411.3,418.2 L412.0,420.3 L412.7,422.4 L413.3,424.4 L414.0,426.3 L414.7,428.2 L415.3,430.0 L416.0,431.7 L416.7,433.4 L417.3,435.0 L418.0,436.5 L418.7,438.0 L419.4,439.3 L420.0,440.6 L420.7,441.8 L421.4,443.0 L422.0,444.0 L422.7,445.0 L423.4,445.9 L424.0,446.7 L424.7,447.5 L425.4,448.1 L426.0,448.7 L426.7,449.2 L427.4,449.6 L428.1,449.9 L428.7,450.2 L429.4,450.3 L430.1,450.4 L430.7,450.4 L431.4,450.3 L432.1,450.1 L432.7,449.8 L433.4,449.5 L434.1,449.0 L434.7,448.5 L435.4,447.9 L436.1,447.2 L436.8,446.4 L437.4,445.6 L438.1,444.6 L438.8,443.6 L439.4,442.5 L440.1,441.3 L440.8,440.1 L441.4,438.8 L442.1,437.4 L442.8,435.9 L443.5,434.4 L444.1,432.8 L444.8,431.1 L445.5,429.4 L446.1,427.6 L446.8,425.8 L447.5,424.0 L448.1,422.0 L448.8,420.1 L449.5,418.1 L450.1,416.0 L450.8,414.0 L451.5,411.9 L452.2,409.8 L452.8,407.6 L453.5,405.5 L454.2,403.3 L454.8,401.1 L455.5,398.9 L456.2,396.7 L456.8,394.5 L457.5,392.3 L458.2,390.1 L458.9,387.9 L459.5,385.7 L460.2,383.6 L460.9,381.4 L461.5,379.3 L462.2,377.2 L462.9,375.1 L463.5,373.1 L464.2,371.1 L464.9,369.1 L465.5,367.1 L466.2,365.1 L466.9,363.2 L467.6,361.4 L468.2,359.5 L468.9,357.7 L469.6,356.0 L470.2,354.3 L470.9,352.6 L471.6,351.0 L472.2,349.4 L472.9,347.8 L473.6,346.3 L474.2,344.9 L474.9,343.5 L475.6,342.2 L476.3,340.9 L476.9,339.7 L477.6,338.5 L478.3,337.4 L478.9,336.3 L479.6,335.3 L480.3,334.3 L480.9,333.4 L481.6,332.6 L482.3,331.8 L483.0,331.1 L483.6,330.4 L484.3,329.8 L485.0,329.2 L485.6,328.7 L486.3,328.3 L487.0,327.9 L487.6,327.5 L488.3,327.3 L489.0,327.0 L489.6,326.9 L490.3,326.8 L491.0,326.7 L491.7,326.7 L492.3,326.7 L493.0,326.8 L493.7,326.9 L494.3,327.1 L495.0,327.4 L495.7,327.6 L496.3,328.0 L497.0,328.3 L497.7,328.7 L498.4,329.2 L499.0,329.7 L499.7,330.2 L500.4,330.8 L501.0,331.4 L501.7,332.1 L502.4,332.7 L503.0,333.4 L503.7,334.2 L504.4,335.0 L505.0,335.8 L505.7,336.6 L506.4,337.5 L507.1,338.3 L507.7,339.3 L508.4,340.2 L509.1,341.1 L509.7,342.1 L510.4,343.1 L511.1,344.1 L511.7,345.1 L512.4,346.2 L513.1,347.2 L513.8,348.3 L514.4,349.4 L515.1,350.4 L515.8,351.5 L516.4,352.6 L517.1,353.7 L517.8,354.9 L518.4,356.0 L519.1,357.1 L519.8,358.2 L520.4,359.3 L521.1,360.4 L521.8,361.6 L522.5,362.7 L523.1,363.8 L523.8,364.9 L524.5,366.0 L525.1,367.1 L525.8,368.2 L526.5,369.3 L527.1,370.4 L527.8,371.4 L528.5,372.5 L529.1,373.5 L529.8,374.6 L530.5,375.6 L531.2,376.6 L531.8,377.6 L532.5,378.6 L533.2,379.6 L533.8,380.5 L534.5,381.4 L535.2,382.4 L535.8,383.3 L536.5,384.2 L537.2,385.0 L537.9,385.9 L538.5,386.7 L539.2,387.6 L539.9,388.4 L540.5,389.2 L541.2,389.9 L541.9,390.7 L542.5,391.4 L543.2,392.1 L543.9,392.8 L544.5,393.5 L545.2,394.2 L545.9,394.8 L546.6,395.4 L547.2,396.0 L547.9,396.6 L548.6,397.2 L549.2,397.7 L549.9,398.3 L550.6,398.8 L551.2,399.3 L551.9,399.7 L552.6,400.2 L553.3,400.6 L553.9,401.1 L554.6,401.5 L555.3,401.8 L555.9,402.2 L556.6,402.6 L557.3,402.9 L557.9,403.2 L558.6,403.5 L559.3,403.8 L559.9,404.1 L560.6,404.3 L561.3,404.6 L562.0,404.8 L562.6,405.0 L563.3,405.1 L564.0,405.3 L564.6,405.5 L565.3,405.6 L566.0,405.7 L566.6,405.8 L567.3,405.9 L568.0,405.9 L568.6,406.0 L569.3,406.0 L570.0,406.0 L570.7,406.0 L571.3,406.0 L572.0,405.9 L572.7,405.9 L573.3,405.8 L574.0,405.7 L574.7,405.6 L575.3,405.4 L576.0,405.3 L576.7,405.1 L577.4,404.9 L578.0,404.7 L578.7,404.5 L579.4,404.3 L580.0,404.0 L580.7,403.8 L581.4,403.5 L582.0,403.2 L582.7,402.8 L583.4,402.5 L584.0,402.2 L584.7,401.8 L585.4,401.4 L586.1,401.0 L586.7,400.6 L587.4,400.1 L588.1,399.7 L588.7,399.2 L589.4,398.8 L590.1,398.3 L590.7,397.8 L591.4,397.2 L592.1,396.7 L592.8,396.2 L593.4,395.6 L594.1,395.0 L594.8,394.5 L595.4,393.9 L596.1,393.3 L596.8,392.7 L597.4,392.0 L598.1,391.4 L598.8,390.8 L599.4,390.1 L600.1,389.5 L600.8,388.8 L601.5,388.1 L602.1,387.5 L602.8,386.8 L603.5,386.1 L604.1,385.4 L604.8,384.7 L605.5,384.1 L606.1,383.4 L606.8,382.7 L607.5,382.0 L608.2,381.3" fill="none" stroke="#FAD0AE" stroke-width="1.5"/>
<path clip-path="url(#cc)" d="M72.6,361.2 L73.2,361.5 L73.9,361.7 L74.6,362.0 L75.2,362.2 L75.9,362.4 L76.6,362.7 L77.2,362.9 L77.9,363.2 L78.6,363.4 L79.2,363.6 L79.9,363.8 L80.6,364.0 L81.3,364.3 L81.9,364.5 L82.6,364.7 L83.3,364.9 L83.9,365.1 L84.6,365.3 L85.3,365.5 L85.9,365.6 L86.6,365.8 L87.3,366.0 L87.9,366.1 L88.6,366.3 L89.3,366.5 L90.0,366.6 L90.6,366.7 L91.3,366.9 L92.0,367.0 L92.6,367.1 L93.3,367.2 L94.0,367.3 L94.6,367.4 L95.3,367.5 L96.0,367.6 L96.7,367.6 L97.3,367.7 L98.0,367.8 L98.7,367.8 L99.3,367.8 L100.0,367.8 L100.7,367.9 L101.3,367.9 L102.0,367.9 L102.7,367.8 L103.3,367.8 L104.0,367.8 L104.7,367.7 L105.4,367.7 L106.0,367.6 L106.7,367.5 L107.4,367.5 L108.0,367.4 L108.7,367.3 L109.4,367.2 L110.0,367.1 L110.7,366.9 L111.4,366.8 L112.1,366.7 L112.7,366.5 L113.4,366.4 L114.1,366.2 L114.7,366.1 L115.4,365.9 L116.1,365.7 L116.7,365.5 L117.4,365.4 L118.1,365.2 L118.7,365.0 L119.4,364.8 L120.1,364.6 L120.8,364.4 L121.4,364.1 L122.1,363.9 L122.8,363.7 L123.4,363.5 L124.1,363.2 L124.8,363.0 L125.4,362.8 L126.1,362.5 L126.8,362.3 L127.4,362.0 L128.1,361.8 L128.8,361.5 L129.5,361.2 L130.1,361.0 L130.8,360.7 L131.5,360.5 L132.1,360.2 L132.8,359.9 L133.5,359.6 L134.1,359.4 L134.8,359.1 L135.5,358.8 L136.2,358.5 L136.8,358.2 L137.5,357.9 L138.2,357.7 L138.8,357.4 L139.5,357.1 L140.2,356.8 L140.8,356.5 L141.5,356.2 L142.2,355.9 L142.8,355.6 L143.5,355.3 L144.2,355.0 L144.9,354.6 L145.5,354.3 L146.2,354.0 L146.9,353.7 L147.5,353.4 L148.2,353.1 L148.9,352.8 L149.5,352.4 L150.2,352.1 L150.9,351.8 L151.6,351.5 L152.2,351.2 L152.9,350.8 L153.6,350.5 L154.2,350.2 L154.9,349.9 L155.6,349.5 L156.2,349.2 L156.9,348.9 L157.6,348.5 L158.2,348.2 L158.9,347.9 L159.6,347.5 L160.3,347.2 L160.9,346.9 L161.6,346.5 L162.3,346.2 L162.9,345.9 L163.6,345.5 L164.3,345.2 L164.9,344.9 L165.6,344.5 L166.3,344.2 L166.9,343.9 L167.6,343.5 L168.3,343.2 L169.0,342.9 L169.6,342.5 L170.3,342.2 L171.0,341.9 L171.6,341.5 L172.3,341.2 L173.0,340.9 L173.6,340.5 L174.3,340.2 L175.0,339.9 L175.7,339.5 L176.3,339.2 L177.0,338.9 L177.7,338.5 L178.3,338.2 L179.0,337.9 L179.7,337.6 L180.3,337.2 L181.0,336.9 L181.7,336.6 L182.3,336.3 L183.0,335.9 L183.7,335.6 L184.4,335.3 L185.0,335.0 L185.7,334.7 L186.4,334.4 L187.0,334.0 L187.7,333.7 L188.4,333.4 L189.0,333.1 L189.7,332.8 L190.4,332.5 L191.1,332.2 L191.7,331.9 L192.4,331.5 L193.1,331.2 L193.7,330.9 L194.4,330.6 L195.1,330.3 L195.7,330.0 L196.4,329.7 L197.1,329.3 L197.7,329.0 L198.4,328.7 L199.1,328.4 L199.8,328.1 L200.4,327.7 L201.1,327.4 L201.8,327.1 L202.4,326.8 L203.1,326.5 L203.8,326.1 L204.4,325.8 L205.1,325.5 L205.8,325.1 L206.5,324.8 L207.1,324.5 L207.8,324.2 L208.5,323.8 L209.1,323.5 L209.8,323.2 L210.5,322.8 L211.1,322.5 L211.8,322.2 L212.5,321.8 L213.1,321.5 L213.8,321.2 L214.5,320.8 L215.2,320.5 L215.8,320.2 L216.5,319.9 L217.2,319.5 L217.8,319.2 L218.5,318.9 L219.2,318.5 L219.8,318.2 L220.5,317.9 L221.2,317.6 L221.8,317.3 L222.5,316.9 L223.2,316.6 L223.9,316.3 L224.5,316.0 L225.2,315.7 L225.9,315.4 L226.5,315.1 L227.2,314.7 L227.9,314.4 L228.5,314.1 L229.2,313.8 L229.9,313.5 L230.6,313.2 L231.2,312.9 L231.9,312.6 L232.6,312.3 L233.2,312.1 L233.9,311.8 L234.6,311.5 L235.2,311.2 L235.9,310.9 L236.6,310.6 L237.2,310.4 L237.9,310.1 L238.6,309.8 L239.3,309.6 L239.9,309.3 L240.6,309.0 L241.3,308.8 L241.9,308.5 L242.6,308.2 L243.3,308.0 L243.9,307.7 L244.6,307.5 L245.3,307.2 L246.0,307.0 L246.6,306.7 L247.3,306.5 L248.0,306.2 L248.6,306.0 L249.3,305.8 L250.0,305.5 L250.6,305.3 L251.3,305.1 L252.0,304.8 L252.6,304.6 L253.3,304.4 L254.0,304.1 L254.7,303.9 L255.3,303.7 L256.0,303.5 L256.7,303.3 L257.3,303.0 L258.0,302.8 L258.7,302.6 L259.3,302.4 L260.0,302.2 L260.7,302.0 L261.3,301.8 L262.0,301.6 L262.7,301.4 L263.4,301.2 L264.0,301.0 L264.7,300.8 L265.4,300.6 L266.0,300.4 L266.7,300.2 L267.4,300.1 L268.0,299.9 L268.7,299.7 L269.4,299.5 L270.1,299.3 L270.7,299.1 L271.4,299.0 L272.1,298.8 L272.7,298.6 L273.4,298.5 L274.1,298.3 L274.7,298.1 L275.4,298.0 L276.1,297.8 L276.7,297.6 L277.4,297.5 L278.1,297.3 L278.8,297.1 L279.4,297.0 L280.1,296.8 L280.8,296.7 L281.4,296.5 L282.1,296.4 L282.8,296.2 L283.4,296.1 L284.1,296.0 L284.8,295.8 L285.5,295.7 L286.1,295.5 L286.8,295.4 L287.5,295.3 L288.1,295.1 L288.8,295.0 L289.5,294.9 L290.1,294.7 L290.8,294.6 L291.5,294.5 L292.1,294.3 L292.8,294.2 L293.5,294.1 L294.2,294.0 L294.8,293.9 L295.5,293.7 L296.2,293.6 L296.8,293.5 L297.5,293.4 L298.2,293.3 L298.8,293.2 L299.5,293.1 L300.2,293.0 L300.8,292.9 L301.5,292.8 L302.2,292.7 L302.9,292.6 L303.5,292.5 L304.2,292.4 L304.9,292.3 L305.5,292.2 L306.2,292.1 L306.9,292.0 L307.5,291.9 L308.2,291.8 L308.9,291.7 L309.6,291.6 L310.2,291.5 L310.9,291.4 L311.6,291.4 L312.2,291.3 L312.9,291.2 L313.6,291.1 L314.2,291.1 L314.9,291.0 L315.6,290.9 L316.2,290.8 L316.9,290.8 L317.6,290.7 L318.3,290.6 L318.9,290.6 L319.6,290.5 L320.3,290.4 L320.9,290.4 L321.6,290.3 L322.3,290.3 L322.9,290.2 L323.6,290.2 L324.3,290.1 L325.0,290.1 L325.6,290.0 L326.3,290.0 L327.0,289.9 L327.6,289.9 L328.3,289.8 L329.0,289.8 L329.6,289.8 L330.3,289.7 L331.0,289.7 L331.6,289.7 L332.3,289.6 L333.0,289.6 L333.7,289.6 L334.3,289.5 L335.0,289.5 L335.7,289.5 L336.3,289.5 L337.0,289.5 L337.7,289.4 L338.3,289.4 L339.0,289.4 L339.7,289.4 L340.4,289.4 L341.0,289.4 L341.7,289.4 L342.4,289.4 L343.0,289.4 L343.7,289.4 L344.4,289.4 L345.0,289.4 L345.7,289.4 L346.4,289.4 L347.0,289.4 L347.7,289.4 L348.4,289.4 L349.1,289.4 L349.7,289.4 L350.4,289.5 L351.1,289.5 L351.7,289.5 L352.4,289.5 L353.1,289.6 L353.7,289.6 L354.4,289.6 L355.1,289.6 L355.7,289.7 L356.4,289.7 L357.1,289.8 L357.8,289.8 L358.4,289.8 L359.1,289.9 L359.8,289.9 L360.4,290.0 L361.1,290.0 L361.8,290.1 L362.4,290.1 L363.1,290.2 L363.8,290.2 L364.5,290.3 L365.1,290.4 L365.8,290.4 L366.5,290.5 L367.1,290.6 L367.8,290.6 L368.5,290.7 L369.1,290.8 L369.8,290.9 L370.5,290.9 L371.1,291.0 L371.8,291.1 L372.5,291.2 L373.2,291.3 L373.8,291.4 L374.5,291.5 L375.2,291.5 L375.8,291.6 L376.5,291.7 L377.2,291.8 L377.8,291.9 L378.5,292.0 L379.2,292.2 L379.9,292.3 L380.5,292.4 L381.2,292.5 L381.9,292.6 L382.5,292.7 L383.2,292.8 L383.9,292.9 L384.5,293.1 L385.2,293.2 L385.9,293.3 L386.5,293.4 L387.2,293.5 L387.9,293.7 L388.6,293.8 L389.2,293.9 L389.9,294.0 L390.6,294.1 L391.2,294.3 L391.9,294.4 L392.6,294.5 L393.2,294.6 L393.9,294.7 L394.6,294.8 L395.2,295.0 L395.9,295.1 L396.6,295.2 L397.3,295.3 L397.9,295.4 L398.6,295.5 L399.3,295.7 L399.9,295.8 L400.6,295.9 L401.3,296.0 L401.9,296.1 L402.6,296.3 L403.3,296.4 L404.0,296.5 L404.6,296.6 L405.3,296.8 L406.0,296.9 L406.6,297.0 L407.3,297.2 L408.0,297.3 L408.6,297.5 L409.3,297.6 L410.0,297.8 L410.6,297.9 L411.3,298.1 L412.0,298.2 L412.7,298.4 L413.3,298.6 L414.0,298.7 L414.7,298.9 L415.3,299.1 L416.0,299.3 L416.7,299.4 L417.3,299.6 L418.0,299.8 L418.7,300.0 L419.4,300.2 L420.0,300.4 L420.7,300.6 L421.4,300.8 L422.0,301.0 L422.7,301.2 L423.4,301.4 L424.0,301.6 L424.7,301.8 L425.4,302.1 L426.0,302.3 L426.7,302.5 L427.4,302.7 L428.1,302.9 L428.7,303.2 L429.4,303.4 L430.1,303.6 L430.7,303.8 L431.4,304.1 L432.1,304.3 L432.7,304.5 L433.4,304.7 L434.1,305.0 L434.7,305.2 L435.4,305.4 L436.1,305.7 L436.8,305.9 L437.4,306.1 L438.1,306.3 L438.8,306.6 L439.4,306.8 L440.1,307.0 L440.8,307.3 L441.4,307.5 L442.1,307.7 L442.8,307.9 L443.5,308.2 L444.1,308.4 L444.8,308.6 L445.5,308.8 L446.1,309.1 L446.8,309.3 L447.5,309.5 L448.1,309.7 L448.8,310.0 L449.5,310.2 L450.1,310.4 L450.8,310.6 L451.5,310.9 L452.2,311.1 L452.8,311.3 L453.5,311.5 L454.2,311.8 L454.8,312.0 L455.5,312.2 L456.2,312.5 L456.8,312.7 L457.5,312.9 L458.2,313.1 L458.9,313.4 L459.5,313.6 L460.2,313.8 L460.9,314.1 L461.5,314.3 L462.2,314.5 L462.9,314.8 L463.5,315.0 L464.2,315.2 L464.9,315.5 L465.5,315.7 L466.2,315.9 L466.9,316.2 L467.6,316.4 L468.2,316.7 L468.9,316.9 L469.6,317.2 L470.2,317.4 L470.9,317.6 L471.6,317.9 L472.2,318.1 L472.9,318.4 L473.6,318.6 L474.2,318.9 L474.9,319.1 L475.6,319.4 L476.3,319.7 L476.9,319.9 L477.6,320.2 L478.3,320.4 L478.9,320.7 L479.6,321.0 L480.3,321.2 L480.9,321.5 L481.6,321.8 L482.3,322.0 L483.0,322.3 L483.6,322.6 L484.3,322.9 L485.0,323.1 L485.6,323.4 L486.3,323.7 L487.0,324.0 L487.6,324.2 L488.3,324.5 L489.0,324.8 L489.6,325.1 L490.3,325.4 L491.0,325.6 L491.7,325.9 L492.3,326.2 L493.0,326.5 L493.7,326.8 L494.3,327.1 L495.0,327.3 L495.7,327.6 L496.3,327.9 L497.0,328.2 L497.7,328.5 L498.4,328.8 L499.0,329.0 L499.7,329.3 L500.4,329.6 L501.0,329.9 L501.7,330.2 L502.4,330.5 L503.0,330.7 L503.7,331.0 L504.4,331.3 L505.0,331.6 L505.7,331.9 L506.4,332.1 L507.1,332.4 L507.7,332.7 L508.4,333.0 L509.1,333.2 L509.7,333.5 L510.4,333.8 L511.1,334.0 L511.7,334.3 L512.4,334.6 L513.1,334.8 L513.8,335.1 L514.4,335.3 L515.1,335.6 L515.8,335.9 L516.4,336.1 L517.1,336.4 L517.8,336.6 L518.4,336.9 L519.1,337.1 L519.8,337.4 L520.4,337.6 L521.1,337.9 L521.8,338.1 L522.5,338.3 L523.1,338.6 L523.8,338.8 L524.5,339.0 L525.1,339.3 L525.8,339.5 L526.5,339.7 L527.1,339.9 L527.8,340.2 L528.5,340.4 L529.1,340.6 L529.8,340.8 L530.5,341.0 L531.2,341.2 L531.8,341.5 L532.5,341.7 L533.2,341.9 L533.8,342.1 L534.5,342.3 L535.2,342.5 L535.8,342.6 L536.5,342.8 L537.2,343.0 L537.9,343.2 L538.5,343.4 L539.2,343.6 L539.9,343.7 L540.5,343.9 L541.2,344.1 L541.9,344.3 L542.5,344.4 L543.2,344.6 L543.9,344.7 L544.5,344.9 L545.2,345.1 L545.9,345.2 L546.6,345.4 L547.2,345.5 L547.9,345.6 L548.6,345.8 L549.2,345.9 L549.9,346.0 L550.6,346.2 L551.2,346.3 L551.9,346.4 L552.6,346.5 L553.3,346.6 L553.9,346.7 L554.6,346.9 L555.3,347.0 L555.9,347.1 L556.6,347.2 L557.3,347.2 L557.9,347.3 L558.6,347.4 L559.3,347.5 L559.9,347.6 L560.6,347.7 L561.3,347.7 L562.0,347.8 L562.6,347.9 L563.3,347.9 L564.0,348.0 L564.6,348.0 L565.3,348.1 L566.0,348.1 L566.6,348.2 L567.3,348.2 L568.0,348.3 L568.6,348.3 L569.3,348.3 L570.0,348.4 L570.7,348.4 L571.3,348.4 L572.0,348.5 L572.7,348.5 L573.3,348.5 L574.0,348.5 L574.7,348.5 L575.3,348.6 L576.0,348.6 L576.7,348.6 L577.4,348.6 L578.0,348.6 L578.7,348.6 L579.4,348.6 L580.0,348.6 L580.7,348.6 L581.4,348.6 L582.0,348.6 L582.7,348.6 L583.4,348.6 L584.0,348.6 L584.7,348.6 L585.4,348.6 L586.1,348.6 L586.7,348.6 L587.4,348.6 L588.1,348.6 L588.7,348.5 L589.4,348.5 L590.1,348.5 L590.7,348.5 L591.4,348.5 L592.1,348.5 L592.8,348.5 L593.4,348.5 L594.1,348.5 L594.8,348.4 L595.4,348.4 L596.1,348.4 L596.8,348.4 L597.4,348.4 L598.1,348.4 L598.8,348.4 L599.4,348.4 L600.1,348.4 L600.8,348.3 L601.5,348.3 L602.1,348.3 L602.8,348.3 L603.5,348.3 L604.1,348.3 L604.8,348.3 L605.5,348.3 L606.1,348.3 L606.8,348.3 L607.5,348.3 L608.2,348.3" fill="none" stroke="#8C8C8C" stroke-width="1.7" stroke-dasharray="14.5,7"/>
<path clip-path="url(#cc)" d="M72.6,393.2 L73.2,392.9 L73.9,392.7 L74.6,392.4 L75.2,392.2 L75.9,392.0 L76.6,391.7 L77.2,391.5 L77.9,391.2 L78.6,391.0 L79.2,390.8 L79.9,390.6 L80.6,390.4 L81.3,390.1 L81.9,389.9 L82.6,389.7 L83.3,389.5 L83.9,389.3 L84.6,389.1 L85.3,388.9 L85.9,388.8 L86.6,388.6 L87.3,388.4 L87.9,388.3 L88.6,388.1 L89.3,387.9 L90.0,387.8 L90.6,387.7 L91.3,387.5 L92.0,387.4 L92.6,387.3 L93.3,387.2 L94.0,387.1 L94.6,387.0 L95.3,386.9 L96.0,386.8 L96.7,386.8 L97.3,386.7 L98.0,386.6 L98.7,386.6 L99.3,386.6 L100.0,386.6 L100.7,386.5 L101.3,386.5 L102.0,386.5 L102.7,386.6 L103.3,386.6 L104.0,386.6 L104.7,386.7 L105.4,386.7 L106.0,386.8 L106.7,386.9 L107.4,386.9 L108.0,387.0 L108.7,387.1 L109.4,387.2 L110.0,387.3 L110.7,387.5 L111.4,387.6 L112.1,387.7 L112.7,387.9 L113.4,388.0 L114.1,388.2 L114.7,388.3 L115.4,388.5 L116.1,388.7 L116.7,388.9 L117.4,389.0 L118.1,389.2 L118.7,389.4 L119.4,389.6 L120.1,389.8 L120.8,390.0 L121.4,390.3 L122.1,390.5 L122.8,390.7 L123.4,390.9 L124.1,391.2 L124.8,391.4 L125.4,391.6 L126.1,391.9 L126.8,392.1 L127.4,392.4 L128.1,392.6 L128.8,392.9 L129.5,393.2 L130.1,393.4 L130.8,393.7 L131.5,393.9 L132.1,394.2 L132.8,394.5 L133.5,394.8 L134.1,395.0 L134.8,395.3 L135.5,395.6 L136.2,395.9 L136.8,396.2 L137.5,396.5 L138.2,396.7 L138.8,397.0 L139.5,397.3 L140.2,397.6 L140.8,397.9 L141.5,398.2 L142.2,398.5 L142.8,398.8 L143.5,399.1 L144.2,399.4 L144.9,399.8 L145.5,400.1 L146.2,400.4 L146.9,400.7 L147.5,401.0 L148.2,401.3 L148.9,401.6 L149.5,402.0 L150.2,402.3 L150.9,402.6 L151.6,402.9 L152.2,403.2 L152.9,403.6 L153.6,403.9 L154.2,404.2 L154.9,404.5 L155.6,404.9 L156.2,405.2 L156.9,405.5 L157.6,405.9 L158.2,406.2 L158.9,406.5 L159.6,406.9 L160.3,407.2 L160.9,407.5 L161.6,407.9 L162.3,408.2 L162.9,408.5 L163.6,408.9 L164.3,409.2 L164.9,409.5 L165.6,409.9 L166.3,410.2 L166.9,410.5 L167.6,410.9 L168.3,411.2 L169.0,411.5 L169.6,411.9 L170.3,412.2 L171.0,412.5 L171.6,412.9 L172.3,413.2 L173.0,413.5 L173.6,413.9 L174.3,414.2 L175.0,414.5 L175.7,414.9 L176.3,415.2 L177.0,415.5 L177.7,415.9 L178.3,416.2 L179.0,416.5 L179.7,416.8 L180.3,417.2 L181.0,417.5 L181.7,417.8 L182.3,418.1 L183.0,418.5 L183.7,418.8 L184.4,419.1 L185.0,419.4 L185.7,419.7 L186.4,420.0 L187.0,420.4 L187.7,420.7 L188.4,421.0 L189.0,421.3 L189.7,421.6 L190.4,421.9 L191.1,422.2 L191.7,422.5 L192.4,422.9 L193.1,423.2 L193.7,423.5 L194.4,423.8 L195.1,424.1 L195.7,424.4 L196.4,424.7 L197.1,425.1 L197.7,425.4 L198.4,425.7 L199.1,426.0 L199.8,426.3 L200.4,426.7 L201.1,427.0 L201.8,427.3 L202.4,427.6 L203.1,427.9 L203.8,428.3 L204.4,428.6 L205.1,428.9 L205.8,429.3 L206.5,429.6 L207.1,429.9 L207.8,430.2 L208.5,430.6 L209.1,430.9 L209.8,431.2 L210.5,431.6 L211.1,431.9 L211.8,432.2 L212.5,432.6 L213.1,432.9 L213.8,433.2 L214.5,433.6 L215.2,433.9 L215.8,434.2 L216.5,434.5 L217.2,434.9 L217.8,435.2 L218.5,435.5 L219.2,435.9 L219.8,436.2 L220.5,436.5 L221.2,436.8 L221.8,437.1 L222.5,437.5 L223.2,437.8 L223.9,438.1 L224.5,438.4 L225.2,438.7 L225.9,439.0 L226.5,439.3 L227.2,439.7 L227.9,440.0 L228.5,440.3 L229.2,440.6 L229.9,440.9 L230.6,441.2 L231.2,441.5 L231.9,441.8 L232.6,442.1 L233.2,442.3 L233.9,442.6 L234.6,442.9 L235.2,443.2 L235.9,443.5 L236.6,443.8 L237.2,444.0 L237.9,444.3 L238.6,444.6 L239.3,444.8 L239.9,445.1 L240.6,445.4 L241.3,445.6 L241.9,445.9 L242.6,446.2 L243.3,446.4 L243.9,446.7 L244.6,446.9 L245.3,447.2 L246.0,447.4 L246.6,447.7 L247.3,447.9 L248.0,448.2 L248.6,448.4 L249.3,448.6 L250.0,448.9 L250.6,449.1 L251.3,449.3 L252.0,449.6 L252.6,449.8 L253.3,450.0 L254.0,450.3 L254.7,450.5 L255.3,450.7 L256.0,450.9 L256.7,451.1 L257.3,451.4 L258.0,451.6 L258.7,451.8 L259.3,452.0 L260.0,452.2 L260.7,452.4 L261.3,452.6 L262.0,452.8 L262.7,453.0 L263.4,453.2 L264.0,453.4 L264.7,453.6 L265.4,453.8 L266.0,454.0 L266.7,454.2 L267.4,454.3 L268.0,454.5 L268.7,454.7 L269.4,454.9 L270.1,455.1 L270.7,455.3 L271.4,455.4 L272.1,455.6 L272.7,455.8 L273.4,455.9 L274.1,456.1 L274.7,456.3 L275.4,456.4 L276.1,456.6 L276.7,456.8 L277.4,456.9 L278.1,457.1 L278.8,457.3 L279.4,457.4 L280.1,457.6 L280.8,457.7 L281.4,457.9 L282.1,458.0 L282.8,458.2 L283.4,458.3 L284.1,458.4 L284.8,458.6 L285.5,458.7 L286.1,458.9 L286.8,459.0 L287.5,459.1 L288.1,459.3 L288.8,459.4 L289.5,459.5 L290.1,459.7 L290.8,459.8 L291.5,459.9 L292.1,460.1 L292.8,460.2 L293.5,460.3 L294.2,460.4 L294.8,460.5 L295.5,460.7 L296.2,460.8 L296.8,460.9 L297.5,461.0 L298.2,461.1 L298.8,461.2 L299.5,461.3 L300.2,461.4 L300.8,461.5 L301.5,461.6 L302.2,461.7 L302.9,461.8 L303.5,461.9 L304.2,462.0 L304.9,462.1 L305.5,462.2 L306.2,462.3 L306.9,462.4 L307.5,462.5 L308.2,462.6 L308.9,462.7 L309.6,462.8 L310.2,462.9 L310.9,463.0 L311.6,463.0 L312.2,463.1 L312.9,463.2 L313.6,463.3 L314.2,463.3 L314.9,463.4 L315.6,463.5 L316.2,463.6 L316.9,463.6 L317.6,463.7 L318.3,463.8 L318.9,463.8 L319.6,463.9 L320.3,464.0 L320.9,464.0 L321.6,464.1 L322.3,464.1 L322.9,464.2 L323.6,464.2 L324.3,464.3 L325.0,464.3 L325.6,464.4 L326.3,464.4 L327.0,464.5 L327.6,464.5 L328.3,464.6 L329.0,464.6 L329.6,464.6 L330.3,464.7 L331.0,464.7 L331.6,464.7 L332.3,464.8 L333.0,464.8 L333.7,464.8 L334.3,464.9 L335.0,464.9 L335.7,464.9 L336.3,464.9 L337.0,464.9 L337.7,465.0 L338.3,465.0 L339.0,465.0 L339.7,465.0 L340.4,465.0 L341.0,465.0 L341.7,465.0 L342.4,465.0 L343.0,465.0 L343.7,465.0 L344.4,465.0 L345.0,465.0 L345.7,465.0 L346.4,465.0 L347.0,465.0 L347.7,465.0 L348.4,465.0 L349.1,465.0 L349.7,465.0 L350.4,464.9 L351.1,464.9 L351.7,464.9 L352.4,464.9 L353.1,464.8 L353.7,464.8 L354.4,464.8 L355.1,464.8 L355.7,464.7 L356.4,464.7 L357.1,464.6 L357.8,464.6 L358.4,464.6 L359.1,464.5 L359.8,464.5 L360.4,464.4 L361.1,464.4 L361.8,464.3 L362.4,464.3 L363.1,464.2 L363.8,464.2 L364.5,464.1 L365.1,464.0 L365.8,464.0 L366.5,463.9 L367.1,463.8 L367.8,463.8 L368.5,463.7 L369.1,463.6 L369.8,463.5 L370.5,463.5 L371.1,463.4 L371.8,463.3 L372.5,463.2 L373.2,463.1 L373.8,463.0 L374.5,462.9 L375.2,462.9 L375.8,462.8 L376.5,462.7 L377.2,462.6 L377.8,462.5 L378.5,462.4 L379.2,462.2 L379.9,462.1 L380.5,462.0 L381.2,461.9 L381.9,461.8 L382.5,461.7 L383.2,461.6 L383.9,461.5 L384.5,461.3 L385.2,461.2 L385.9,461.1 L386.5,461.0 L387.2,460.9 L387.9,460.7 L388.6,460.6 L389.2,460.5 L389.9,460.4 L390.6,460.3 L391.2,460.1 L391.9,460.0 L392.6,459.9 L393.2,459.8 L393.9,459.7 L394.6,459.6 L395.2,459.4 L395.9,459.3 L396.6,459.2 L397.3,459.1 L397.9,459.0 L398.6,458.9 L399.3,458.7 L399.9,458.6 L400.6,458.5 L401.3,458.4 L401.9,458.3 L402.6,458.1 L403.3,458.0 L404.0,457.9 L404.6,457.8 L405.3,457.6 L406.0,457.5 L406.6,457.4 L407.3,457.2 L408.0,457.1 L408.6,456.9 L409.3,456.8 L410.0,456.6 L410.6,456.5 L411.3,456.3 L412.0,456.2 L412.7,456.0 L413.3,455.8 L414.0,455.7 L414.7,455.5 L415.3,455.3 L416.0,455.1 L416.7,455.0 L417.3,454.8 L418.0,454.6 L418.7,454.4 L419.4,454.2 L420.0,454.0 L420.7,453.8 L421.4,453.6 L422.0,453.4 L422.7,453.2 L423.4,453.0 L424.0,452.8 L424.7,452.6 L425.4,452.3 L426.0,452.1 L426.7,451.9 L427.4,451.7 L428.1,451.5 L428.7,451.2 L429.4,451.0 L430.1,450.8 L430.7,450.6 L431.4,450.3 L432.1,450.1 L432.7,449.9 L433.4,449.7 L434.1,449.4 L434.7,449.2 L435.4,449.0 L436.1,448.7 L436.8,448.5 L437.4,448.3 L438.1,448.1 L438.8,447.8 L439.4,447.6 L440.1,447.4 L440.8,447.1 L441.4,446.9 L442.1,446.7 L442.8,446.5 L443.5,446.2 L444.1,446.0 L444.8,445.8 L445.5,445.6 L446.1,445.3 L446.8,445.1 L447.5,444.9 L448.1,444.7 L448.8,444.4 L449.5,444.2 L450.1,444.0 L450.8,443.8 L451.5,443.5 L452.2,443.3 L452.8,443.1 L453.5,442.9 L454.2,442.6 L454.8,442.4 L455.5,442.2 L456.2,441.9 L456.8,441.7 L457.5,441.5 L458.2,441.3 L458.9,441.0 L459.5,440.8 L460.2,440.6 L460.9,440.3 L461.5,440.1 L462.2,439.9 L462.9,439.6 L463.5,439.4 L464.2,439.2 L464.9,438.9 L465.5,438.7 L466.2,438.5 L466.9,438.2 L467.6,438.0 L468.2,437.7 L468.9,437.5 L469.6,437.2 L470.2,437.0 L470.9,436.8 L471.6,436.5 L472.2,436.3 L472.9,436.0 L473.6,435.8 L474.2,435.5 L474.9,435.3 L475.6,435.0 L476.3,434.7 L476.9,434.5 L477.6,434.2 L478.3,434.0 L478.9,433.7 L479.6,433.4 L480.3,433.2 L480.9,432.9 L481.6,432.6 L482.3,432.4 L483.0,432.1 L483.6,431.8 L484.3,431.5 L485.0,431.3 L485.6,431.0 L486.3,430.7 L487.0,430.4 L487.6,430.2 L488.3,429.9 L489.0,429.6 L489.6,429.3 L490.3,429.0 L491.0,428.8 L491.7,428.5 L492.3,428.2 L493.0,427.9 L493.7,427.6 L494.3,427.3 L495.0,427.1 L495.7,426.8 L496.3,426.5 L497.0,426.2 L497.7,425.9 L498.4,425.6 L499.0,425.4 L499.7,425.1 L500.4,424.8 L501.0,424.5 L501.7,424.2 L502.4,423.9 L503.0,423.7 L503.7,423.4 L504.4,423.1 L505.0,422.8 L505.7,422.5 L506.4,422.3 L507.1,422.0 L507.7,421.7 L508.4,421.4 L509.1,421.2 L509.7,420.9 L510.4,420.6 L511.1,420.4 L511.7,420.1 L512.4,419.8 L513.1,419.6 L513.8,419.3 L514.4,419.1 L515.1,418.8 L515.8,418.5 L516.4,418.3 L517.1,418.0 L517.8,417.8 L518.4,417.5 L519.1,417.3 L519.8,417.0 L520.4,416.8 L521.1,416.5 L521.8,416.3 L522.5,416.1 L523.1,415.8 L523.8,415.6 L524.5,415.4 L525.1,415.1 L525.8,414.9 L526.5,414.7 L527.1,414.5 L527.8,414.2 L528.5,414.0 L529.1,413.8 L529.8,413.6 L530.5,413.4 L531.2,413.2 L531.8,412.9 L532.5,412.7 L533.2,412.5 L533.8,412.3 L534.5,412.1 L535.2,411.9 L535.8,411.8 L536.5,411.6 L537.2,411.4 L537.9,411.2 L538.5,411.0 L539.2,410.8 L539.9,410.7 L540.5,410.5 L541.2,410.3 L541.9,410.1 L542.5,410.0 L543.2,409.8 L543.9,409.7 L544.5,409.5 L545.2,409.3 L545.9,409.2 L546.6,409.0 L547.2,408.9 L547.9,408.8 L548.6,408.6 L549.2,408.5 L549.9,408.4 L550.6,408.2 L551.2,408.1 L551.9,408.0 L552.6,407.9 L553.3,407.8 L553.9,407.7 L554.6,407.5 L555.3,407.4 L555.9,407.3 L556.6,407.2 L557.3,407.2 L557.9,407.1 L558.6,407.0 L559.3,406.9 L559.9,406.8 L560.6,406.7 L561.3,406.7 L562.0,406.6 L562.6,406.5 L563.3,406.5 L564.0,406.4 L564.6,406.4 L565.3,406.3 L566.0,406.3 L566.6,406.2 L567.3,406.2 L568.0,406.1 L568.6,406.1 L569.3,406.1 L570.0,406.0 L570.7,406.0 L571.3,406.0 L572.0,405.9 L572.7,405.9 L573.3,405.9 L574.0,405.9 L574.7,405.9 L575.3,405.8 L576.0,405.8 L576.7,405.8 L577.4,405.8 L578.0,405.8 L578.7,405.8 L579.4,405.8 L580.0,405.8 L580.7,405.8 L581.4,405.8 L582.0,405.8 L582.7,405.8 L583.4,405.8 L584.0,405.8 L584.7,405.8 L585.4,405.8 L586.1,405.8 L586.7,405.8 L587.4,405.8 L588.1,405.8 L588.7,405.9 L589.4,405.9 L590.1,405.9 L590.7,405.9 L591.4,405.9 L592.1,405.9 L592.8,405.9 L593.4,405.9 L594.1,405.9 L594.8,406.0 L595.4,406.0 L596.1,406.0 L596.8,406.0 L597.4,406.0 L598.1,406.0 L598.8,406.0 L599.4,406.0 L600.1,406.0 L600.8,406.1 L601.5,406.1 L602.1,406.1 L602.8,406.1 L603.5,406.1 L604.1,406.1 L604.8,406.1 L605.5,406.1 L606.1,406.1 L606.8,406.1 L607.5,406.1 L608.2,406.1" fill="none" stroke="#8C8C8C" stroke-width="1.7" stroke-dasharray="14.5,7"/>
<rect x="206" y="429.2" width="25.6" height="12.6" fill="#fff"/>
<path clip-path="url(#cc)" d="M215.2,377.2 L215.2,377.2 L215.8,377.1 L216.5,377.0 L217.2,377.0 L217.8,376.9 L218.5,376.8 L219.2,376.6 L219.8,376.5 L220.5,376.3 L221.2,376.0 L221.8,375.8 L222.5,375.5 L223.2,375.2 L223.9,374.9 L224.5,374.6 L225.2,374.2 L225.9,373.9 L226.5,373.6 L227.2,373.4 L227.9,373.1 L228.5,373.0 L229.2,372.8 L229.9,372.7 L230.6,372.7 L231.2,372.8 L231.9,372.9 L232.6,373.0 L233.2,373.2 L233.9,373.5 L234.6,373.8 L235.2,374.1 L235.9,374.4 L236.6,374.8 L237.2,375.1 L237.9,375.5 L238.6,375.8 L239.3,376.1 L239.9,376.3 L240.6,376.5 L241.3,376.7 L241.9,376.9 L242.6,377.0 L243.3,377.1 L243.9,377.2 L243.9,377.2 Z M322.9,377.2 L322.9,377.2 L323.6,377.1 L324.3,377.0 L325.0,376.8 L325.6,376.5 L326.3,376.0 L327.0,375.4 L327.6,374.5 L328.3,373.3 L329.0,371.8 L329.6,370.0 L330.3,367.8 L331.0,365.3 L331.6,362.5 L332.3,359.4 L333.0,356.0 L333.7,352.4 L334.3,348.6 L335.0,344.8 L335.7,340.9 L336.3,337.2 L337.0,333.5 L337.7,330.2 L338.3,327.1 L339.0,324.4 L339.7,322.1 L340.4,320.3 L341.0,319.1 L341.7,318.3 L342.4,318.1 L343.0,318.5 L343.7,319.4 L344.4,320.8 L345.0,322.7 L345.7,325.0 L346.4,327.7 L347.0,330.7 L347.7,334.0 L348.4,337.4 L349.1,341.0 L349.7,344.6 L350.4,348.2 L351.1,351.7 L351.7,355.1 L352.4,358.3 L353.1,361.3 L353.7,364.1 L354.4,366.5 L355.1,368.7 L355.7,370.6 L356.4,372.1 L357.1,373.5 L357.8,374.5 L358.4,375.3 L359.1,375.9 L359.8,376.4 L360.4,376.7 L361.1,376.9 L361.8,377.1 L362.4,377.2 L362.4,377.2 Z M444.8,377.2 L444.8,377.2 L445.5,377.1 L446.1,377.0 L446.8,377.0 L447.5,376.9 L448.1,376.7 L448.8,376.6 L449.5,376.4 L450.1,376.2 L450.8,375.9 L451.5,375.7 L452.2,375.4 L452.8,375.1 L453.5,374.8 L454.2,374.5 L454.8,374.2 L455.5,373.9 L456.2,373.7 L456.8,373.5 L457.5,373.3 L458.2,373.1 L458.9,373.0 L459.5,373.0 L460.2,373.0 L460.9,373.0 L461.5,373.1 L462.2,373.2 L462.9,373.3 L463.5,373.5 L464.2,373.7 L464.9,374.0 L465.5,374.2 L466.2,374.5 L466.9,374.8 L467.6,375.0 L468.2,375.3 L468.9,375.5 L469.6,375.8 L470.2,376.0 L470.9,376.2 L471.6,376.4 L472.2,376.5 L472.9,376.7 L473.6,376.8 L474.2,376.9 L474.9,377.0 L475.6,377.0 L476.3,377.1 L476.9,377.2 L476.9,377.2 Z " fill="#EC2D2F" stroke="none"/>
<path clip-path="url(#cc)" d="M266.7,377.2 L266.7,377.2 L267.4,377.3 L268.0,377.4 L268.7,377.5 L269.4,377.7 L270.1,378.0 L270.7,378.4 L271.4,379.0 L272.1,379.6 L272.7,380.5 L273.4,381.5 L274.1,382.7 L274.7,384.0 L275.4,385.6 L276.1,387.3 L276.7,389.1 L277.4,391.1 L278.1,393.2 L278.8,395.4 L279.4,397.6 L280.1,399.8 L280.8,401.9 L281.4,403.9 L282.1,405.8 L282.8,407.5 L283.4,409.0 L284.1,410.2 L284.8,411.1 L285.5,411.7 L286.1,412.0 L286.8,411.9 L287.5,411.5 L288.1,410.8 L288.8,409.7 L289.5,408.3 L290.1,406.7 L290.8,404.8 L291.5,402.8 L292.1,400.6 L292.8,398.4 L293.5,396.0 L294.2,393.8 L294.8,391.5 L295.5,389.4 L296.2,387.4 L296.8,385.5 L297.5,383.9 L298.2,382.4 L298.8,381.2 L299.5,380.2 L300.2,379.3 L300.8,378.7 L301.5,378.2 L302.2,377.8 L302.9,377.6 L303.5,377.4 L304.2,377.3 L304.9,377.2 L304.9,377.2 Z M381.9,377.2 L381.9,377.2 L382.5,377.4 L383.2,377.5 L383.9,377.7 L384.5,378.0 L385.2,378.5 L385.9,379.1 L386.5,379.9 L387.2,380.9 L387.9,382.0 L388.6,383.4 L389.2,385.1 L389.9,386.9 L390.6,388.8 L391.2,390.9 L391.9,393.2 L392.6,395.4 L393.2,397.7 L393.9,399.9 L394.6,402.1 L395.2,404.1 L395.9,405.9 L396.6,407.5 L397.3,408.9 L397.9,409.9 L398.6,410.7 L399.3,411.1 L399.9,411.2 L400.6,411.0 L401.3,410.5 L401.9,409.7 L402.6,408.6 L403.3,407.3 L404.0,405.7 L404.6,404.0 L405.3,402.1 L406.0,400.2 L406.6,398.1 L407.3,396.1 L408.0,394.1 L408.6,392.1 L409.3,390.1 L410.0,388.3 L410.6,386.6 L411.3,385.1 L412.0,383.7 L412.7,382.4 L413.3,381.4 L414.0,380.4 L414.7,379.6 L415.3,379.0 L416.0,378.5 L416.7,378.1 L417.3,377.8 L418.0,377.6 L418.7,377.4 L419.4,377.3 L420.0,377.2 L420.0,377.2 Z " fill="#2155A6" stroke="none"/>
<path clip-path="url(#cc)" d="M239.9,377.2 L239.9,377.2 L240.6,377.1 L241.3,377.0 L241.9,376.9 L242.6,376.8 L243.3,376.5 L243.9,376.2 L244.6,375.8 L245.3,375.4 L246.0,374.8 L246.6,374.1 L247.3,373.3 L248.0,372.4 L248.6,371.5 L249.3,370.4 L250.0,369.3 L250.6,368.2 L251.3,367.1 L252.0,366.0 L252.6,365.0 L253.3,364.0 L254.0,363.1 L254.7,362.4 L255.3,361.7 L256.0,361.3 L256.7,361.0 L257.3,360.9 L258.0,360.9 L258.7,361.2 L259.3,361.6 L260.0,362.1 L260.7,362.9 L261.3,363.7 L262.0,364.6 L262.7,365.6 L263.4,366.7 L264.0,367.8 L264.7,368.9 L265.4,370.0 L266.0,371.0 L266.7,372.0 L267.4,372.9 L268.0,373.7 L268.7,374.5 L269.4,375.1 L270.1,375.6 L270.7,376.0 L271.4,376.4 L272.1,376.6 L272.7,376.8 L273.4,377.0 L274.1,377.1 L274.7,377.2 L274.7,377.2 Z M351.7,377.2 L351.7,377.2 L352.4,377.1 L353.1,377.0 L353.7,376.8 L354.4,376.5 L355.1,376.1 L355.7,375.5 L356.4,374.8 L357.1,373.8 L357.8,372.7 L358.4,371.2 L359.1,369.5 L359.8,367.6 L360.4,365.4 L361.1,362.9 L361.8,360.2 L362.4,357.4 L363.1,354.4 L363.8,351.3 L364.5,348.1 L365.1,344.9 L365.8,341.8 L366.5,338.9 L367.1,336.1 L367.8,333.5 L368.5,331.3 L369.1,329.4 L369.8,327.9 L370.5,326.8 L371.1,326.1 L371.8,326.0 L372.5,326.3 L373.2,327.1 L373.8,328.3 L374.5,330.0 L375.2,332.1 L375.8,334.6 L376.5,337.3 L377.2,340.4 L377.8,343.6 L378.5,346.9 L379.2,350.2 L379.9,353.5 L380.5,356.8 L381.2,359.8 L381.9,362.7 L382.5,365.3 L383.2,367.7 L383.9,369.7 L384.5,371.5 L385.2,373.0 L385.9,374.2 L386.5,375.1 L387.2,375.8 L387.9,376.3 L388.6,376.7 L389.2,376.9 L389.9,377.0 L390.6,377.2 L390.6,377.2 Z M480.9,377.2 L480.9,377.2 L481.6,377.1 L482.3,377.1 L483.0,377.0 L483.6,377.0 L484.3,377.0 L485.0,376.9 L485.6,376.9 L486.3,376.9 L487.0,376.8 L487.6,376.8 L488.3,376.8 L489.0,376.8 L489.6,376.7 L490.3,376.7 L491.0,376.7 L491.7,376.7 L492.3,376.7 L493.0,376.7 L493.7,376.7 L494.3,376.8 L495.0,376.8 L495.7,376.8 L496.3,376.8 L497.0,376.9 L497.7,376.9 L498.4,376.9 L499.0,377.0 L499.7,377.0 L500.4,377.0 L501.0,377.0 L501.7,377.1 L502.4,377.1 L503.0,377.2 L503.0,377.2 Z " fill="#B7808D" stroke="none"/>
<path clip-path="url(#cc)" d="M193.7,377.2 L193.7,377.2 L194.4,377.3 L195.1,377.3 L195.7,377.4 L196.4,377.4 L197.1,377.4 L197.7,377.5 L198.4,377.5 L199.1,377.5 L199.8,377.6 L200.4,377.6 L201.1,377.6 L201.8,377.6 L202.4,377.6 L203.1,377.6 L203.8,377.6 L204.4,377.6 L205.1,377.6 L205.8,377.6 L206.5,377.5 L207.1,377.5 L207.8,377.5 L208.5,377.4 L209.1,377.4 L209.8,377.4 L210.5,377.3 L211.1,377.3 L211.8,377.2 L211.8,377.2 Z M295.5,377.2 L295.5,377.2 L296.2,377.4 L296.8,377.5 L297.5,377.7 L298.2,378.1 L298.8,378.6 L299.5,379.3 L300.2,380.1 L300.8,381.3 L301.5,382.7 L302.2,384.3 L302.9,386.3 L303.5,388.5 L304.2,391.1 L304.9,393.8 L305.5,396.8 L306.2,400.0 L306.9,403.2 L307.5,406.5 L308.2,409.9 L308.9,413.1 L309.6,416.2 L310.2,419.1 L310.9,421.7 L311.6,424.0 L312.2,425.8 L312.9,427.3 L313.6,428.2 L314.2,428.7 L314.9,428.7 L315.6,428.1 L316.2,427.1 L316.9,425.5 L317.6,423.5 L318.3,421.2 L318.9,418.4 L319.6,415.4 L320.3,412.2 L320.9,408.8 L321.6,405.4 L322.3,402.0 L322.9,398.6 L323.6,395.4 L324.3,392.4 L325.0,389.6 L325.6,387.2 L326.3,385.0 L327.0,383.1 L327.6,381.6 L328.3,380.3 L329.0,379.4 L329.6,378.6 L330.3,378.1 L331.0,377.7 L331.6,377.5 L332.3,377.4 L333.0,377.2 L333.0,377.2 Z M412.0,377.2 L412.0,377.2 L412.7,377.3 L413.3,377.4 L414.0,377.6 L414.7,377.7 L415.3,378.0 L416.0,378.3 L416.7,378.6 L417.3,379.1 L418.0,379.6 L418.7,380.2 L419.4,380.9 L420.0,381.7 L420.7,382.5 L421.4,383.4 L422.0,384.3 L422.7,385.2 L423.4,386.2 L424.0,387.1 L424.7,388.0 L425.4,388.9 L426.0,389.7 L426.7,390.4 L427.4,391.0 L428.1,391.5 L428.7,391.9 L429.4,392.1 L430.1,392.3 L430.7,392.2 L431.4,392.1 L432.1,391.8 L432.7,391.3 L433.4,390.8 L434.1,390.1 L434.7,389.4 L435.4,388.5 L436.1,387.7 L436.8,386.7 L437.4,385.8 L438.1,384.8 L438.8,383.9 L439.4,383.0 L440.1,382.1 L440.8,381.3 L441.4,380.6 L442.1,380.0 L442.8,379.4 L443.5,378.9 L444.1,378.5 L444.8,378.1 L445.5,377.9 L446.1,377.7 L446.8,377.5 L447.5,377.4 L448.1,377.3 L448.8,377.2 L448.8,377.2 Z " fill="#6F7DC0" stroke="none"/>
<path clip-path="url(#cc)" d="M72.6,378.2 L73.2,378.9 L73.9,379.6 L74.6,380.4 L75.2,381.0 L75.9,381.7 L76.6,382.3 L77.2,382.9 L77.9,383.4 L78.6,383.9 L79.2,384.4 L79.9,384.8 L80.6,385.3 L81.3,385.6 L81.9,386.0 L82.6,386.3 L83.3,386.6 L83.9,386.8 L84.6,387.1 L85.3,387.2 L85.9,387.4 L86.6,387.5 L87.3,387.6 L87.9,387.7 L88.6,387.7 L89.3,387.7 L90.0,387.7 L90.6,387.6 L91.3,387.5 L92.0,387.4 L92.6,387.2 L93.3,387.1 L94.0,386.8 L94.6,386.6 L95.3,386.3 L96.0,386.0 L96.7,385.6 L97.3,385.3 L98.0,384.8 L98.7,384.4 L99.3,383.9 L100.0,383.4 L100.7,382.9 L101.3,382.4 L102.0,381.8 L102.7,381.2 L103.3,380.6 L104.0,380.0 L104.7,379.4 L105.4,378.7 L106.0,378.1 L106.7,377.5 L107.4,376.8 L108.0,376.2 L108.7,375.5 L109.4,374.8 L110.0,374.2 L110.7,373.5 L111.4,372.8 L112.1,372.2 L112.7,371.5 L113.4,370.8 L114.1,370.2 L114.7,369.5 L115.4,368.9 L116.1,368.3 L116.7,367.7 L117.4,367.2 L118.1,366.6 L118.7,366.1 L119.4,365.6 L120.1,365.2 L120.8,364.8 L121.4,364.4 L122.1,364.1 L122.8,363.7 L123.4,363.5 L124.1,363.2 L124.8,363.0 L125.4,362.9 L126.1,362.7 L126.8,362.7 L127.4,362.6 L128.1,362.6 L128.8,362.6 L129.5,362.7 L130.1,362.8 L130.8,362.9 L131.5,363.1 L132.1,363.3 L132.8,363.6 L133.5,363.9 L134.1,364.2 L134.8,364.6 L135.5,365.0 L136.2,365.5 L136.8,366.0 L137.5,366.5 L138.2,367.0 L138.8,367.6 L139.5,368.3 L140.2,369.0 L140.8,369.7 L141.5,370.4 L142.2,371.2 L142.8,372.0 L143.5,372.9 L144.2,373.8 L144.9,374.7 L145.5,375.6 L146.2,376.6 L146.9,377.6 L147.5,378.6 L148.2,379.7 L148.9,380.8 L149.5,381.8 L150.2,382.9 L150.9,384.1 L151.6,385.2 L152.2,386.3 L152.9,387.4 L153.6,388.6 L154.2,389.7 L154.9,390.9 L155.6,392.0 L156.2,393.1 L156.9,394.2 L157.6,395.4 L158.2,396.5 L158.9,397.6 L159.6,398.6 L160.3,399.7 L160.9,400.7 L161.6,401.7 L162.3,402.7 L162.9,403.7 L163.6,404.6 L164.3,405.5 L164.9,406.4 L165.6,407.2 L166.3,408.0 L166.9,408.8 L167.6,409.5 L168.3,410.2 L169.0,410.8 L169.6,411.4 L170.3,411.9 L171.0,412.4 L171.6,412.8 L172.3,413.2 L173.0,413.5 L173.6,413.8 L174.3,414.0 L175.0,414.1 L175.7,414.2 L176.3,414.2 L177.0,414.2 L177.7,414.0 L178.3,413.9 L179.0,413.6 L179.7,413.3 L180.3,413.0 L181.0,412.5 L181.7,412.0 L182.3,411.5 L183.0,410.8 L183.7,410.1 L184.4,409.4 L185.0,408.6 L185.7,407.7 L186.4,406.7 L187.0,405.7 L187.7,404.7 L188.4,403.5 L189.0,402.4 L189.7,401.1 L190.4,399.8 L191.1,398.5 L191.7,397.1 L192.4,395.7 L193.1,394.2 L193.7,392.6 L194.4,391.1 L195.1,389.5 L195.7,387.8 L196.4,386.1 L197.1,384.4 L197.7,382.6 L198.4,380.9 L199.1,379.0 L199.8,377.2 L200.4,375.3 L201.1,373.5 L201.8,371.6 L202.4,369.7 L203.1,367.8 L203.8,365.8 L204.4,363.9 L205.1,362.0 L205.8,360.1 L206.5,358.1 L207.1,356.2 L207.8,354.3 L208.5,352.4 L209.1,350.5 L209.8,348.7 L210.5,346.8 L211.1,345.0 L211.8,343.2 L212.5,341.4 L213.1,339.7 L213.8,338.0 L214.5,336.3 L215.2,334.7 L215.8,333.1 L216.5,331.5 L217.2,330.0 L217.8,328.5 L218.5,327.1 L219.2,325.8 L219.8,324.5 L220.5,323.3 L221.2,322.1 L221.8,321.0 L222.5,320.0 L223.2,319.0 L223.9,318.1 L224.5,317.3 L225.2,316.6 L225.9,315.9 L226.5,315.3 L227.2,314.9 L227.9,314.5 L228.5,314.1 L229.2,313.9 L229.9,313.8 L230.6,313.8 L231.2,313.8 L231.9,314.0 L232.6,314.2 L233.2,314.6 L233.9,315.0 L234.6,315.6 L235.2,316.3 L235.9,317.0 L236.6,317.9 L237.2,318.8 L237.9,319.9 L238.6,321.0 L239.3,322.3 L239.9,323.6 L240.6,325.1 L241.3,326.6 L241.9,328.2 L242.6,329.9 L243.3,331.7 L243.9,333.6 L244.6,335.5 L245.3,337.6 L246.0,339.7 L246.6,341.8 L247.3,344.1 L248.0,346.4 L248.6,348.7 L249.3,351.1 L250.0,353.6 L250.6,356.1 L251.3,358.6 L252.0,361.2 L252.6,363.8 L253.3,366.4 L254.0,369.1 L254.7,371.8 L255.3,374.5 L256.0,377.2 L256.7,379.9 L257.3,382.6 L258.0,385.4 L258.7,388.1 L259.3,390.8 L260.0,393.5 L260.7,396.2 L261.3,398.8 L262.0,401.5 L262.7,404.1 L263.4,406.7 L264.0,409.3 L264.7,411.8 L265.4,414.3 L266.0,416.7 L266.7,419.1 L267.4,421.5 L268.0,423.8 L268.7,426.1 L269.4,428.3 L270.1,430.5 L270.7,432.6 L271.4,434.6 L272.1,436.6 L272.7,438.5 L273.4,440.3 L274.1,442.1 L274.7,443.8 L275.4,445.4 L276.1,446.9 L276.7,448.4 L277.4,449.7 L278.1,451.0 L278.8,452.2 L279.4,453.3 L280.1,454.3 L280.8,455.2 L281.4,456.0 L282.1,456.7 L282.8,457.3 L283.4,457.8 L284.1,458.2 L284.8,458.5 L285.5,458.7 L286.1,458.8 L286.8,458.8 L287.5,458.7 L288.1,458.4 L288.8,458.1 L289.5,457.6 L290.1,457.0 L290.8,456.3 L291.5,455.5 L292.1,454.6 L292.8,453.6 L293.5,452.5 L294.2,451.3 L294.8,449.9 L295.5,448.5 L296.2,447.0 L296.8,445.3 L297.5,443.6 L298.2,441.8 L298.8,439.8 L299.5,437.8 L300.2,435.7 L300.8,433.5 L301.5,431.2 L302.2,428.9 L302.9,426.4 L303.5,423.9 L304.2,421.3 L304.9,418.7 L305.5,416.0 L306.2,413.2 L306.9,410.3 L307.5,407.5 L308.2,404.5 L308.9,401.5 L309.6,398.5 L310.2,395.5 L310.9,392.4 L311.6,389.2 L312.2,386.1 L312.9,382.9 L313.6,379.8 L314.2,376.6 L314.9,373.4 L315.6,370.2 L316.2,366.9 L316.9,363.7 L317.6,360.5 L318.3,357.4 L318.9,354.2 L319.6,351.1 L320.3,347.9 L320.9,344.9 L321.6,341.8 L322.3,338.8 L322.9,335.9 L323.6,333.0 L324.3,330.2 L325.0,327.4 L325.6,324.7 L326.3,322.1 L327.0,319.5 L327.6,317.1 L328.3,314.7 L329.0,312.4 L329.6,310.2 L330.3,308.1 L331.0,306.1 L331.6,304.2 L332.3,302.4 L333.0,300.7 L333.7,299.2 L334.3,297.7 L335.0,296.4 L335.7,295.1 L336.3,294.0 L337.0,293.0 L337.7,292.1 L338.3,291.4 L339.0,290.8 L339.7,290.2 L340.4,289.8 L341.0,289.6 L341.7,289.4 L342.4,289.4 L343.0,289.5 L343.7,289.6 L344.4,290.0 L345.0,290.4 L345.7,290.9 L346.4,291.5 L347.0,292.3 L347.7,293.1 L348.4,294.1 L349.1,295.1 L349.7,296.3 L350.4,297.6 L351.1,298.9 L351.7,300.3 L352.4,301.9 L353.1,303.5 L353.7,305.2 L354.4,307.0 L355.1,308.9 L355.7,310.9 L356.4,312.9 L357.1,315.0 L357.8,317.2 L358.4,319.4 L359.1,321.8 L359.8,324.2 L360.4,326.6 L361.1,329.1 L361.8,331.7 L362.4,334.3 L363.1,337.0 L363.8,339.8 L364.5,342.5 L365.1,345.4 L365.8,348.2 L366.5,351.1 L367.1,354.1 L367.8,357.0 L368.5,360.0 L369.1,363.1 L369.8,366.1 L370.5,369.2 L371.1,372.2 L371.8,375.3 L372.5,378.4 L373.2,381.5 L373.8,384.7 L374.5,387.8 L375.2,390.9 L375.8,393.9 L376.5,397.0 L377.2,400.1 L377.8,403.1 L378.5,406.0 L379.2,409.0 L379.9,411.9 L380.5,414.7 L381.2,417.5 L381.9,420.2 L382.5,422.9 L383.2,425.4 L383.9,427.9 L384.5,430.4 L385.2,432.7 L385.9,435.0 L386.5,437.2 L387.2,439.2 L387.9,441.2 L388.6,443.1 L389.2,444.9 L389.9,446.5 L390.6,448.1 L391.2,449.6 L391.9,450.9 L392.6,452.2 L393.2,453.3 L393.9,454.3 L394.6,455.3 L395.2,456.1 L395.9,456.7 L396.6,457.3 L397.3,457.8 L397.9,458.1 L398.6,458.4 L399.3,458.5 L399.9,458.6 L400.6,458.5 L401.3,458.3 L401.9,458.1 L402.6,457.7 L403.3,457.2 L404.0,456.7 L404.6,456.0 L405.3,455.3 L406.0,454.4 L406.6,453.5 L407.3,452.5 L408.0,451.4 L408.6,450.3 L409.3,449.1 L410.0,447.7 L410.6,446.4 L411.3,444.9 L412.0,443.4 L412.7,441.8 L413.3,440.1 L414.0,438.4 L414.7,436.6 L415.3,434.8 L416.0,432.9 L416.7,430.9 L417.3,428.9 L418.0,426.9 L418.7,424.8 L419.4,422.7 L420.0,420.5 L420.7,418.3 L421.4,416.1 L422.0,413.8 L422.7,411.5 L423.4,409.1 L424.0,406.8 L424.7,404.4 L425.4,402.0 L426.0,399.5 L426.7,397.1 L427.4,394.6 L428.1,392.1 L428.7,389.7 L429.4,387.2 L430.1,384.7 L430.7,382.2 L431.4,379.7 L432.1,377.2 L432.7,374.7 L433.4,372.2 L434.1,369.8 L434.7,367.3 L435.4,364.9 L436.1,362.5 L436.8,360.1 L437.4,357.8 L438.1,355.4 L438.8,353.2 L439.4,350.9 L440.1,348.7 L440.8,346.6 L441.4,344.5 L442.1,342.4 L442.8,340.4 L443.5,338.5 L444.1,336.6 L444.8,334.8 L445.5,333.1 L446.1,331.4 L446.8,329.8 L447.5,328.3 L448.1,326.8 L448.8,325.4 L449.5,324.1 L450.1,322.9 L450.8,321.7 L451.5,320.7 L452.2,319.7 L452.8,318.8 L453.5,317.9 L454.2,317.2 L454.8,316.5 L455.5,316.0 L456.2,315.5 L456.8,315.0 L457.5,314.7 L458.2,314.4 L458.9,314.3 L459.5,314.2 L460.2,314.2 L460.9,314.2 L461.5,314.3 L462.2,314.5 L462.9,314.8 L463.5,315.1 L464.2,315.5 L464.9,316.0 L465.5,316.5 L466.2,317.1 L466.9,317.8 L467.6,318.5 L468.2,319.3 L468.9,320.1 L469.6,321.0 L470.2,322.0 L470.9,323.0 L471.6,324.0 L472.2,325.1 L472.9,326.2 L473.6,327.4 L474.2,328.7 L474.9,329.9 L475.6,331.2 L476.3,332.6 L476.9,333.9 L477.6,335.3 L478.3,336.8 L478.9,338.2 L479.6,339.7 L480.3,341.2 L480.9,342.8 L481.6,344.3 L482.3,345.9 L483.0,347.5 L483.6,349.1 L484.3,350.7 L485.0,352.3 L485.6,353.9 L486.3,355.5 L487.0,357.2 L487.6,358.8 L488.3,360.4 L489.0,362.0 L489.6,363.7 L490.3,365.3 L491.0,366.9 L491.7,368.5 L492.3,370.1 L493.0,371.7 L493.7,373.2 L494.3,374.8 L495.0,376.3 L495.7,377.8 L496.3,379.3 L497.0,380.8 L497.7,382.2 L498.4,383.6 L499.0,385.0 L499.7,386.4 L500.4,387.7 L501.0,389.1 L501.7,390.3 L502.4,391.6 L503.0,392.8 L503.7,394.0 L504.4,395.2 L505.0,396.3 L505.7,397.4 L506.4,398.5 L507.1,399.5 L507.7,400.5 L508.4,401.4 L509.1,402.4 L509.7,403.3 L510.4,404.1 L511.1,404.9 L511.7,405.7 L512.4,406.4 L513.1,407.2 L513.8,407.8 L514.4,408.5 L515.1,409.0 L515.8,409.6 L516.4,410.1 L517.1,410.6 L517.8,411.1 L518.4,411.5 L519.1,411.9 L519.8,412.2 L520.4,412.5 L521.1,412.8 L521.8,413.0 L522.5,413.3 L523.1,413.4 L523.8,413.6 L524.5,413.7 L525.1,413.8 L525.8,413.8 L526.5,413.8 L527.1,413.8 L527.8,413.8 L528.5,413.7 L529.1,413.6 L529.8,413.5 L530.5,413.3 L531.2,413.2 L531.8,412.9 L532.5,412.7 L533.2,412.5 L533.8,412.2 L534.5,411.9 L535.2,411.6 L535.8,411.2 L536.5,410.8 L537.2,410.5 L537.9,410.1 L538.5,409.6 L539.2,409.2 L539.9,408.7 L540.5,408.3 L541.2,407.8 L541.9,407.3 L542.5,406.7 L543.2,406.2 L543.9,405.7 L544.5,405.1 L545.2,404.5 L545.9,403.9 L546.6,403.3 L547.2,402.7 L547.9,402.1 L548.6,401.5 L549.2,400.8 L549.9,400.2 L550.6,399.5 L551.2,398.9 L551.9,398.2 L552.6,397.5 L553.3,396.8 L553.9,396.1 L554.6,395.4 L555.3,394.7 L555.9,394.0 L556.6,393.3 L557.3,392.6 L557.9,391.9 L558.6,391.1 L559.3,390.4 L559.9,389.7 L560.6,388.9 L561.3,388.2 L562.0,387.4 L562.6,386.7 L563.3,386.0 L564.0,385.2 L564.6,384.5 L565.3,383.7 L566.0,382.9 L566.6,382.2 L567.3,381.4 L568.0,380.7 L568.6,379.9 L569.3,379.2 L570.0,378.4 L570.7,377.7 L571.3,376.9 L572.0,376.1 L572.7,375.4 L573.3,374.6 L574.0,373.9 L574.7,373.1 L575.3,372.4 L576.0,371.7 L576.7,370.9 L577.4,370.2 L578.0,369.5 L578.7,368.8 L579.4,368.0 L580.0,367.3 L580.7,366.6 L581.4,365.9 L582.0,365.2 L582.7,364.6 L583.4,363.9 L584.0,363.2 L584.7,362.6 L585.4,361.9 L586.1,361.3 L586.7,360.7 L587.4,360.1 L588.1,359.5 L588.7,358.9 L589.4,358.3 L590.1,357.7 L590.7,357.2 L591.4,356.7 L592.1,356.1 L592.8,355.6 L593.4,355.1 L594.1,354.7 L594.8,354.2 L595.4,353.8 L596.1,353.3 L596.8,352.9 L597.4,352.5 L598.1,352.1 L598.8,351.8 L599.4,351.4 L600.1,351.1 L600.8,350.8 L601.5,350.5 L602.1,350.2 L602.8,350.0 L603.5,349.7 L604.1,349.5 L604.8,349.3 L605.5,349.1 L606.1,349.0 L606.8,348.8 L607.5,348.7 L608.2,348.6" fill="none" stroke="#2A7AB9" stroke-width="1.8"/>
<line x1="72.50" y1="377.20" x2="608.30" y2="377.20" stroke="#EADCE4" stroke-width="1.0" />
<path clip-path="url(#cc)" d="M193.1,377.3 L193.7,377.3 L194.4,377.3 L195.1,377.3 L195.7,377.4 L196.4,377.4 L197.1,377.4 L197.7,377.5 L198.4,377.5 L199.1,377.5 L199.8,377.6 L200.4,377.6 L201.1,377.6 L201.8,377.6 L202.4,377.6 L203.1,377.6 L203.8,377.6 L204.4,377.6 L205.1,377.6 L205.8,377.6 L206.5,377.5 L207.1,377.5 L207.8,377.5 L208.5,377.4 L209.1,377.4 L209.8,377.4 L210.5,377.3 L211.1,377.3 L211.8,377.3 L212.5,377.3 M239.3,377.2 L239.9,377.1 L240.6,377.1 L241.3,377.0 L241.9,376.9 L242.6,376.8 L243.3,376.5 L243.9,376.2 L244.6,375.8 L245.3,375.4 L246.0,374.8 L246.6,374.1 L247.3,373.3 L248.0,372.4 L248.6,371.5 L249.3,370.4 L250.0,369.3 L250.6,368.2 L251.3,367.1 L252.0,366.0 L252.6,365.0 L253.3,364.0 L254.0,363.1 L254.7,362.4 L255.3,361.7 L256.0,361.3 L256.7,361.0 L257.3,360.9 L258.0,360.9 L258.7,361.2 L259.3,361.6 L260.0,362.1 L260.7,362.9 L261.3,363.7 L262.0,364.6 L262.7,365.6 L263.4,366.7 L264.0,367.8 L264.7,368.9 L265.4,370.0 L266.0,371.0 L266.7,372.0 L267.4,372.9 L268.0,373.7 L268.7,374.5 L269.4,375.1 L270.1,375.6 L270.7,376.0 L271.4,376.4 L272.1,376.6 L272.7,376.8 L273.4,377.0 L274.1,377.1 L274.7,377.1 L275.4,377.2 M294.8,377.2 L295.5,377.3 L296.2,377.4 L296.8,377.5 L297.5,377.7 L298.2,378.1 L298.8,378.6 L299.5,379.3 L300.2,380.1 L300.8,381.3 L301.5,382.7 L302.2,384.3 L302.9,386.3 L303.5,388.5 L304.2,391.1 L304.9,393.8 L305.5,396.8 L306.2,400.0 L306.9,403.2 L307.5,406.5 L308.2,409.9 L308.9,413.1 L309.6,416.2 L310.2,419.1 L310.9,421.7 L311.6,424.0 L312.2,425.8 L312.9,427.3 L313.6,428.2 L314.2,428.7 L314.9,428.7 L315.6,428.1 L316.2,427.1 L316.9,425.5 L317.6,423.5 L318.3,421.2 L318.9,418.4 L319.6,415.4 L320.3,412.2 L320.9,408.8 L321.6,405.4 L322.3,402.0 L322.9,398.6 L323.6,395.4 L324.3,392.4 L325.0,389.6 L325.6,387.2 L326.3,385.0 L327.0,383.1 L327.6,381.6 L328.3,380.3 L329.0,379.4 L329.6,378.6 L330.3,378.1 L331.0,377.7 L331.6,377.5 L332.3,377.4 L333.0,377.3 L333.7,377.2 M351.1,377.2 L351.7,377.1 L352.4,377.1 L353.1,377.0 L353.7,376.8 L354.4,376.5 L355.1,376.1 L355.7,375.5 L356.4,374.8 L357.1,373.8 L357.8,372.7 L358.4,371.2 L359.1,369.5 L359.8,367.6 L360.4,365.4 L361.1,362.9 L361.8,360.2 L362.4,357.4 L363.1,354.4 L363.8,351.3 L364.5,348.1 L365.1,344.9 L365.8,341.8 L366.5,338.9 L367.1,336.1 L367.8,333.5 L368.5,331.3 L369.1,329.4 L369.8,327.9 L370.5,326.8 L371.1,326.1 L371.8,326.0 L372.5,326.3 L373.2,327.1 L373.8,328.3 L374.5,330.0 L375.2,332.1 L375.8,334.6 L376.5,337.3 L377.2,340.4 L377.8,343.6 L378.5,346.9 L379.2,350.2 L379.9,353.5 L380.5,356.8 L381.2,359.8 L381.9,362.7 L382.5,365.3 L383.2,367.7 L383.9,369.7 L384.5,371.5 L385.2,373.0 L385.9,374.2 L386.5,375.1 L387.2,375.8 L387.9,376.3 L388.6,376.7 L389.2,376.9 L389.9,377.0 L390.6,377.1 L391.2,377.2 M411.3,377.2 L412.0,377.3 L412.7,377.3 L413.3,377.4 L414.0,377.6 L414.7,377.7 L415.3,378.0 L416.0,378.3 L416.7,378.6 L417.3,379.1 L418.0,379.6 L418.7,380.2 L419.4,380.9 L420.0,381.7 L420.7,382.5 L421.4,383.4 L422.0,384.3 L422.7,385.2 L423.4,386.2 L424.0,387.1 L424.7,388.0 L425.4,388.9 L426.0,389.7 L426.7,390.4 L427.4,391.0 L428.1,391.5 L428.7,391.9 L429.4,392.1 L430.1,392.3 L430.7,392.2 L431.4,392.1 L432.1,391.8 L432.7,391.3 L433.4,390.8 L434.1,390.1 L434.7,389.4 L435.4,388.5 L436.1,387.7 L436.8,386.7 L437.4,385.8 L438.1,384.8 L438.8,383.9 L439.4,383.0 L440.1,382.1 L440.8,381.3 L441.4,380.6 L442.1,380.0 L442.8,379.4 L443.5,378.9 L444.1,378.5 L444.8,378.1 L445.5,377.9 L446.1,377.7 L446.8,377.5 L447.5,377.4 L448.1,377.3 L448.8,377.3 L449.5,377.2 M480.3,377.1 L480.9,377.1 L481.6,377.1 L482.3,377.1 L483.0,377.0 L483.6,377.0 L484.3,377.0 L485.0,376.9 L485.6,376.9 L486.3,376.9 L487.0,376.8 L487.6,376.8 L488.3,376.8 L489.0,376.8 L489.6,376.7 L490.3,376.7 L491.0,376.7 L491.7,376.7 L492.3,376.7 L493.0,376.7 L493.7,376.7 L494.3,376.8 L495.0,376.8 L495.7,376.8 L496.3,376.8 L497.0,376.9 L497.7,376.9 L498.4,376.9 L499.0,377.0 L499.7,377.0 L500.4,377.0 L501.0,377.0 L501.7,377.1 L502.4,377.1 L503.0,377.1 L503.7,377.1 " fill="none" stroke="#FAD0AE" stroke-width="1.8" stroke-dasharray="7.6,3,3.5,4"/>
<path clip-path="url(#cc)" d="M72.6,377.2 L73.2,377.2 L73.9,377.2 L74.6,377.2 L75.2,377.2 L75.9,377.2 L76.6,377.2 L77.2,377.2 L77.9,377.2 L78.6,377.2 L79.2,377.2 L79.9,377.2 L80.6,377.2 L81.3,377.2 L81.9,377.2 L82.6,377.2 L83.3,377.2 L83.9,377.2 L84.6,377.2 L85.3,377.2 L85.9,377.2 L86.6,377.2 L87.3,377.2 L87.9,377.2 L88.6,377.2 L89.3,377.2 L90.0,377.2 L90.6,377.2 L91.3,377.2 L92.0,377.2 L92.6,377.2 L93.3,377.2 L94.0,377.2 L94.6,377.2 L95.3,377.2 L96.0,377.2 L96.7,377.2 L97.3,377.2 L98.0,377.2 L98.7,377.2 L99.3,377.2 L100.0,377.2 L100.7,377.2 L101.3,377.2 L102.0,377.2 L102.7,377.2 L103.3,377.2 L104.0,377.2 L104.7,377.2 L105.4,377.2 L106.0,377.2 L106.7,377.2 L107.4,377.2 L108.0,377.2 L108.7,377.2 L109.4,377.2 L110.0,377.2 L110.7,377.2 L111.4,377.2 L112.1,377.2 L112.7,377.2 L113.4,377.2 L114.1,377.2 L114.7,377.2 L115.4,377.2 L116.1,377.2 L116.7,377.2 L117.4,377.2 L118.1,377.2 L118.7,377.2 L119.4,377.2 L120.1,377.2 L120.8,377.2 L121.4,377.2 L122.1,377.2 L122.8,377.2 L123.4,377.2 L124.1,377.2 L124.8,377.2 L125.4,377.2 L126.1,377.2 L126.8,377.2 L127.4,377.2 L128.1,377.2 L128.8,377.2 L129.5,377.2 L130.1,377.2 L130.8,377.2 L131.5,377.2 L132.1,377.2 L132.8,377.2 L133.5,377.2 L134.1,377.2 L134.8,377.2 L135.5,377.2 L136.2,377.2 L136.8,377.2 L137.5,377.2 L138.2,377.2 L138.8,377.2 L139.5,377.2 L140.2,377.2 L140.8,377.2 L141.5,377.2 L142.2,377.2 L142.8,377.2 L143.5,377.2 L144.2,377.2 L144.9,377.2 L145.5,377.2 L146.2,377.2 L146.9,377.2 L147.5,377.2 L148.2,377.2 L148.9,377.2 L149.5,377.2 L150.2,377.2 L150.9,377.2 L151.6,377.2 L152.2,377.2 L152.9,377.2 L153.6,377.2 L154.2,377.2 L154.9,377.2 L155.6,377.2 L156.2,377.2 L156.9,377.2 L157.6,377.2 L158.2,377.2 L158.9,377.2 L159.6,377.2 L160.3,377.2 L160.9,377.2 L161.6,377.2 L162.3,377.2 L162.9,377.2 L163.6,377.2 L164.3,377.2 L164.9,377.2 L165.6,377.2 L166.3,377.2 L166.9,377.2 L167.6,377.2 L168.3,377.2 L169.0,377.2 L169.6,377.2 L170.3,377.2 L171.0,377.2 L171.6,377.2 L172.3,377.2 L173.0,377.2 L173.6,377.2 L174.3,377.2 L175.0,377.2 L175.7,377.2 L176.3,377.2 L177.0,377.2 L177.7,377.2 L178.3,377.2 L179.0,377.2 L179.7,377.2 L180.3,377.2 L181.0,377.2 L181.7,377.2 L182.3,377.2 L183.0,377.2 L183.7,377.2 L184.4,377.2 L185.0,377.2 L185.7,377.2 L186.4,377.2 L187.0,377.2 L187.7,377.2 L188.4,377.2 L189.0,377.2 L189.7,377.2 L190.4,377.2 L191.1,377.2 L191.7,377.2 L192.4,377.2 L193.1,377.2 L193.7,377.2 L194.4,377.2 L195.1,377.2 L195.7,377.2 L196.4,377.2 L197.1,377.2 L197.7,377.2 L198.4,377.2 L199.1,377.2 L199.8,377.2 L200.4,377.2 L201.1,377.2 L201.8,377.2 L202.4,377.2 L203.1,377.2 L203.8,377.2 L204.4,377.2 L205.1,377.2 L205.8,377.2 L206.5,377.2 L207.1,377.2 L207.8,377.2 L208.5,377.2 L209.1,377.2 L209.8,377.2 L210.5,377.2 L211.1,377.2 L211.8,377.2 L212.5,377.2 L213.1,377.2 L213.8,377.2 L214.5,377.2 L215.2,377.1 L215.8,377.1 L216.5,377.0 L217.2,377.0 L217.8,376.9 L218.5,376.8 L219.2,376.6 L219.8,376.5 L220.5,376.3 L221.2,376.0 L221.8,375.8 L222.5,375.5 L223.2,375.2 L223.9,374.9 L224.5,374.6 L225.2,374.2 L225.9,373.9 L226.5,373.6 L227.2,373.4 L227.9,373.1 L228.5,373.0 L229.2,372.8 L229.9,372.7 L230.6,372.7 L231.2,372.8 L231.9,372.9 L232.6,373.0 L233.2,373.2 L233.9,373.5 L234.6,373.8 L235.2,374.1 L235.9,374.4 L236.6,374.8 L237.2,375.1 L237.9,375.5 L238.6,375.8 L239.3,376.1 L239.9,376.3 L240.6,376.5 L241.3,376.7 L241.9,376.9 L242.6,377.0 L243.3,377.1 L243.9,377.1 L244.6,377.1 L245.3,377.2 L246.0,377.2 L246.6,377.2 L247.3,377.2 L248.0,377.2 L248.6,377.2 L249.3,377.2 L250.0,377.2 L250.6,377.2 L251.3,377.2 L252.0,377.2 L252.6,377.2 L253.3,377.2 L254.0,377.2 L254.7,377.2 L255.3,377.2 L256.0,377.2 L256.7,377.2 L257.3,377.2 L258.0,377.2 L258.7,377.2 L259.3,377.2 L260.0,377.2 L260.7,377.2 L261.3,377.2 L262.0,377.2 L262.7,377.2 L263.4,377.2 L264.0,377.2 L264.7,377.2 L265.4,377.2 L266.0,377.2 L266.7,377.3 L267.4,377.3 L268.0,377.4 L268.7,377.5 L269.4,377.7 L270.1,378.0 L270.7,378.4 L271.4,379.0 L272.1,379.6 L272.7,380.5 L273.4,381.5 L274.1,382.7 L274.7,384.0 L275.4,385.6 L276.1,387.3 L276.7,389.1 L277.4,391.1 L278.1,393.2 L278.8,395.4 L279.4,397.6 L280.1,399.8 L280.8,401.9 L281.4,403.9 L282.1,405.8 L282.8,407.5 L283.4,409.0 L284.1,410.2 L284.8,411.1 L285.5,411.7 L286.1,412.0 L286.8,411.9 L287.5,411.5 L288.1,410.8 L288.8,409.7 L289.5,408.3 L290.1,406.7 L290.8,404.8 L291.5,402.8 L292.1,400.6 L292.8,398.4 L293.5,396.0 L294.2,393.8 L294.8,391.5 L295.5,389.4 L296.2,387.4 L296.8,385.5 L297.5,383.9 L298.2,382.4 L298.8,381.2 L299.5,380.2 L300.2,379.3 L300.8,378.7 L301.5,378.2 L302.2,377.8 L302.9,377.6 L303.5,377.4 L304.2,377.3 L304.9,377.2 L305.5,377.2 L306.2,377.2 L306.9,377.2 L307.5,377.2 L308.2,377.2 L308.9,377.2 L309.6,377.2 L310.2,377.2 L310.9,377.2 L311.6,377.2 L312.2,377.2 L312.9,377.2 L313.6,377.2 L314.2,377.2 L314.9,377.2 L315.6,377.2 L316.2,377.2 L316.9,377.2 L317.6,377.2 L318.3,377.2 L318.9,377.2 L319.6,377.2 L320.3,377.2 L320.9,377.2 L321.6,377.2 L322.3,377.2 L322.9,377.2 L323.6,377.1 L324.3,377.0 L325.0,376.8 L325.6,376.5 L326.3,376.0 L327.0,375.4 L327.6,374.5 L328.3,373.3 L329.0,371.8 L329.6,370.0 L330.3,367.8 L331.0,365.3 L331.6,362.5 L332.3,359.4 L333.0,356.0 L333.7,352.4 L334.3,348.6 L335.0,344.8 L335.7,340.9 L336.3,337.2 L337.0,333.5 L337.7,330.2 L338.3,327.1 L339.0,324.4 L339.7,322.1 L340.4,320.3 L341.0,319.1 L341.7,318.3 L342.4,318.1 L343.0,318.5 L343.7,319.4 L344.4,320.8 L345.0,322.7 L345.7,325.0 L346.4,327.7 L347.0,330.7 L347.7,334.0 L348.4,337.4 L349.1,341.0 L349.7,344.6 L350.4,348.2 L351.1,351.7 L351.7,355.1 L352.4,358.3 L353.1,361.3 L353.7,364.1 L354.4,366.5 L355.1,368.7 L355.7,370.6 L356.4,372.1 L357.1,373.5 L357.8,374.5 L358.4,375.3 L359.1,375.9 L359.8,376.4 L360.4,376.7 L361.1,376.9 L361.8,377.1 L362.4,377.1 L363.1,377.2 L363.8,377.2 L364.5,377.2 L365.1,377.2 L365.8,377.2 L366.5,377.2 L367.1,377.2 L367.8,377.2 L368.5,377.2 L369.1,377.2 L369.8,377.2 L370.5,377.2 L371.1,377.2 L371.8,377.2 L372.5,377.2 L373.2,377.2 L373.8,377.2 L374.5,377.2 L375.2,377.2 L375.8,377.2 L376.5,377.2 L377.2,377.2 L377.8,377.2 L378.5,377.2 L379.2,377.2 L379.9,377.2 L380.5,377.2 L381.2,377.2 L381.9,377.3 L382.5,377.4 L383.2,377.5 L383.9,377.7 L384.5,378.0 L385.2,378.5 L385.9,379.1 L386.5,379.9 L387.2,380.9 L387.9,382.0 L388.6,383.4 L389.2,385.1 L389.9,386.9 L390.6,388.8 L391.2,390.9 L391.9,393.2 L392.6,395.4 L393.2,397.7 L393.9,399.9 L394.6,402.1 L395.2,404.1 L395.9,405.9 L396.6,407.5 L397.3,408.9 L397.9,409.9 L398.6,410.7 L399.3,411.1 L399.9,411.2 L400.6,411.0 L401.3,410.5 L401.9,409.7 L402.6,408.6 L403.3,407.3 L404.0,405.7 L404.6,404.0 L405.3,402.1 L406.0,400.2 L406.6,398.1 L407.3,396.1 L408.0,394.1 L408.6,392.1 L409.3,390.1 L410.0,388.3 L410.6,386.6 L411.3,385.1 L412.0,383.7 L412.7,382.4 L413.3,381.4 L414.0,380.4 L414.7,379.6 L415.3,379.0 L416.0,378.5 L416.7,378.1 L417.3,377.8 L418.0,377.6 L418.7,377.4 L419.4,377.3 L420.0,377.3 L420.7,377.2 L421.4,377.2 L422.0,377.2 L422.7,377.2 L423.4,377.2 L424.0,377.2 L424.7,377.2 L425.4,377.2 L426.0,377.2 L426.7,377.2 L427.4,377.2 L428.1,377.2 L428.7,377.2 L429.4,377.2 L430.1,377.2 L430.7,377.2 L431.4,377.2 L432.1,377.2 L432.7,377.2 L433.4,377.2 L434.1,377.2 L434.7,377.2 L435.4,377.2 L436.1,377.2 L436.8,377.2 L437.4,377.2 L438.1,377.2 L438.8,377.2 L439.4,377.2 L440.1,377.2 L440.8,377.2 L441.4,377.2 L442.1,377.2 L442.8,377.2 L443.5,377.2 L444.1,377.2 L444.8,377.1 L445.5,377.1 L446.1,377.0 L446.8,377.0 L447.5,376.9 L448.1,376.7 L448.8,376.6 L449.5,376.4 L450.1,376.2 L450.8,375.9 L451.5,375.7 L452.2,375.4 L452.8,375.1 L453.5,374.8 L454.2,374.5 L454.8,374.2 L455.5,373.9 L456.2,373.7 L456.8,373.5 L457.5,373.3 L458.2,373.1 L458.9,373.0 L459.5,373.0 L460.2,373.0 L460.9,373.0 L461.5,373.1 L462.2,373.2 L462.9,373.3 L463.5,373.5 L464.2,373.7 L464.9,374.0 L465.5,374.2 L466.2,374.5 L466.9,374.8 L467.6,375.0 L468.2,375.3 L468.9,375.5 L469.6,375.8 L470.2,376.0 L470.9,376.2 L471.6,376.4 L472.2,376.5 L472.9,376.7 L473.6,376.8 L474.2,376.9 L474.9,377.0 L475.6,377.0 L476.3,377.1 L476.9,377.1 L477.6,377.1 L478.3,377.2 L478.9,377.2 L479.6,377.2 L480.3,377.2 L480.9,377.2 L481.6,377.2 L482.3,377.2 L483.0,377.2 L483.6,377.2 L484.3,377.2 L485.0,377.2 L485.6,377.2 L486.3,377.2 L487.0,377.2 L487.6,377.2 L488.3,377.2 L489.0,377.2 L489.6,377.2 L490.3,377.2 L491.0,377.2 L491.7,377.2 L492.3,377.2 L493.0,377.2 L493.7,377.2 L494.3,377.2 L495.0,377.2 L495.7,377.2 L496.3,377.2 L497.0,377.2 L497.7,377.2 L498.4,377.2 L499.0,377.2 L499.7,377.2 L500.4,377.2 L501.0,377.2 L501.7,377.2 L502.4,377.2 L503.0,377.2 L503.7,377.2 L504.4,377.2 L505.0,377.2 L505.7,377.2 L506.4,377.2 L507.1,377.2 L507.7,377.2 L508.4,377.2 L509.1,377.2 L509.7,377.2 L510.4,377.2 L511.1,377.2 L511.7,377.2 L512.4,377.2 L513.1,377.2 L513.8,377.2 L514.4,377.2 L515.1,377.2 L515.8,377.2 L516.4,377.2 L517.1,377.2 L517.8,377.2 L518.4,377.2 L519.1,377.2 L519.8,377.2 L520.4,377.2 L521.1,377.2 L521.8,377.2 L522.5,377.2 L523.1,377.2 L523.8,377.2 L524.5,377.2 L525.1,377.2 L525.8,377.2 L526.5,377.2 L527.1,377.2 L527.8,377.2 L528.5,377.2 L529.1,377.2 L529.8,377.2 L530.5,377.2 L531.2,377.2 L531.8,377.2 L532.5,377.2 L533.2,377.2 L533.8,377.2 L534.5,377.2 L535.2,377.2 L535.8,377.2 L536.5,377.2 L537.2,377.2 L537.9,377.2 L538.5,377.2 L539.2,377.2 L539.9,377.2 L540.5,377.2 L541.2,377.2 L541.9,377.2 L542.5,377.2 L543.2,377.2 L543.9,377.2 L544.5,377.2 L545.2,377.2 L545.9,377.2 L546.6,377.2 L547.2,377.2 L547.9,377.2 L548.6,377.2 L549.2,377.2 L549.9,377.2 L550.6,377.2 L551.2,377.2 L551.9,377.2 L552.6,377.2 L553.3,377.2 L553.9,377.2 L554.6,377.2 L555.3,377.2 L555.9,377.2 L556.6,377.2 L557.3,377.2 L557.9,377.2 L558.6,377.2 L559.3,377.2 L559.9,377.2 L560.6,377.2 L561.3,377.2 L562.0,377.2 L562.6,377.2 L563.3,377.2 L564.0,377.2 L564.6,377.2 L565.3,377.2 L566.0,377.2 L566.6,377.2 L567.3,377.2 L568.0,377.2 L568.6,377.2 L569.3,377.2 L570.0,377.2 L570.7,377.2 L571.3,377.2 L572.0,377.2 L572.7,377.2 L573.3,377.2 L574.0,377.2 L574.7,377.2 L575.3,377.2 L576.0,377.2 L576.7,377.2 L577.4,377.2 L578.0,377.2 L578.7,377.2 L579.4,377.2 L580.0,377.2 L580.7,377.2 L581.4,377.2 L582.0,377.2 L582.7,377.2 L583.4,377.2 L584.0,377.2 L584.7,377.2 L585.4,377.2 L586.1,377.2 L586.7,377.2 L587.4,377.2 L588.1,377.2 L588.7,377.2 L589.4,377.2 L590.1,377.2 L590.7,377.2 L591.4,377.2 L592.1,377.2 L592.8,377.2 L593.4,377.2 L594.1,377.2 L594.8,377.2 L595.4,377.2 L596.1,377.2 L596.8,377.2 L597.4,377.2 L598.1,377.2 L598.8,377.2 L599.4,377.2 L600.1,377.2 L600.8,377.2 L601.5,377.2 L602.1,377.2 L602.8,377.2 L603.5,377.2 L604.1,377.2 L604.8,377.2 L605.5,377.2 L606.1,377.2 L606.8,377.2 L607.5,377.2 L608.2,377.2" fill="none" stroke="#2A7AB9" stroke-width="2" stroke-dasharray="7.6,3,3.5,4" stroke-dashoffset="4"/>
<text x="334.68" y="371.40" font-size="14.4" fill="#fff" textLength="10.26" lengthAdjust="spacingAndGlyphs">Q</text>
<line x1="346.30" y1="365.00" x2="351.10" y2="365.00" stroke="#fff" stroke-width="1.2" />
<line x1="348.70" y1="362.60" x2="348.70" y2="367.40" stroke="#fff" stroke-width="1.2" />
<text x="277.64" y="390.70" font-size="14.3" fill="#fff" textLength="10.83" lengthAdjust="spacingAndGlyphs">Q</text>
<line x1="289.30" y1="384.30" x2="291.90" y2="384.30" stroke="#fff" stroke-width="1.0" />
<text x="393.64" y="390.70" font-size="14.3" fill="#fff" textLength="10.83" lengthAdjust="spacingAndGlyphs">Q</text>
<line x1="405.30" y1="384.30" x2="407.90" y2="384.30" stroke="#fff" stroke-width="1.0" />
<line x1="67.00" y1="465.40" x2="72.50" y2="465.40" stroke="#231F20" stroke-width="2" />
<line x1="67.00" y1="452.80" x2="72.50" y2="452.80" stroke="#231F20" stroke-width="2" />
<line x1="62.70" y1="440.20" x2="72.50" y2="440.20" stroke="#231F20" stroke-width="2" />
<line x1="67.00" y1="427.60" x2="72.50" y2="427.60" stroke="#231F20" stroke-width="2" />
<line x1="67.00" y1="415.00" x2="72.50" y2="415.00" stroke="#231F20" stroke-width="2" />
<line x1="67.00" y1="402.40" x2="72.50" y2="402.40" stroke="#231F20" stroke-width="2" />
<line x1="67.00" y1="389.80" x2="72.50" y2="389.80" stroke="#231F20" stroke-width="2" />
<line x1="62.70" y1="377.20" x2="72.50" y2="377.20" stroke="#231F20" stroke-width="2" />
<line x1="67.00" y1="364.60" x2="72.50" y2="364.60" stroke="#231F20" stroke-width="2" />
<line x1="67.00" y1="352.00" x2="72.50" y2="352.00" stroke="#231F20" stroke-width="2" />
<line x1="67.00" y1="339.40" x2="72.50" y2="339.40" stroke="#231F20" stroke-width="2" />
<line x1="67.00" y1="326.80" x2="72.50" y2="326.80" stroke="#231F20" stroke-width="2" />
<line x1="62.70" y1="314.20" x2="72.50" y2="314.20" stroke="#231F20" stroke-width="2" />
<line x1="67.00" y1="301.60" x2="72.50" y2="301.60" stroke="#231F20" stroke-width="2" />
<line x1="67.00" y1="289.00" x2="72.50" y2="289.00" stroke="#231F20" stroke-width="2" />
<line x1="72.55" y1="473.80" x2="72.55" y2="482.80" stroke="#231F20" stroke-width="2" />
<line x1="85.94" y1="473.80" x2="85.94" y2="479.00" stroke="#231F20" stroke-width="2" />
<line x1="99.33" y1="473.80" x2="99.33" y2="479.00" stroke="#231F20" stroke-width="2" />
<line x1="112.72" y1="473.80" x2="112.72" y2="479.00" stroke="#231F20" stroke-width="2" />
<line x1="126.11" y1="473.80" x2="126.11" y2="479.00" stroke="#231F20" stroke-width="2" />
<line x1="139.50" y1="473.80" x2="139.50" y2="482.80" stroke="#231F20" stroke-width="2" />
<line x1="152.89" y1="473.80" x2="152.89" y2="479.00" stroke="#231F20" stroke-width="2" />
<line x1="166.28" y1="473.80" x2="166.28" y2="479.00" stroke="#231F20" stroke-width="2" />
<line x1="179.67" y1="473.80" x2="179.67" y2="479.00" stroke="#231F20" stroke-width="2" />
<line x1="193.06" y1="473.80" x2="193.06" y2="479.00" stroke="#231F20" stroke-width="2" />
<line x1="206.45" y1="473.80" x2="206.45" y2="482.80" stroke="#231F20" stroke-width="2" />
<line x1="219.84" y1="473.80" x2="219.84" y2="479.00" stroke="#231F20" stroke-width="2" />
<line x1="233.23" y1="473.80" x2="233.23" y2="479.00" stroke="#231F20" stroke-width="2" />
<line x1="246.62" y1="473.80" x2="246.62" y2="479.00" stroke="#231F20" stroke-width="2" />
<line x1="260.01" y1="473.80" x2="260.01" y2="479.00" stroke="#231F20" stroke-width="2" />
<line x1="273.40" y1="473.80" x2="273.40" y2="482.80" stroke="#231F20" stroke-width="2" />
<line x1="286.79" y1="473.80" x2="286.79" y2="479.00" stroke="#231F20" stroke-width="2" />
<line x1="300.18" y1="473.80" x2="300.18" y2="479.00" stroke="#231F20" stroke-width="2" />
<line x1="313.57" y1="473.80" x2="313.57" y2="479.00" stroke="#231F20" stroke-width="2" />
<line x1="326.96" y1="473.80" x2="326.96" y2="479.00" stroke="#231F20" stroke-width="2" />
<line x1="340.35" y1="473.80" x2="340.35" y2="482.80" stroke="#231F20" stroke-width="2" />
<line x1="353.74" y1="473.80" x2="353.74" y2="479.00" stroke="#231F20" stroke-width="2" />
<line x1="367.13" y1="473.80" x2="367.13" y2="479.00" stroke="#231F20" stroke-width="2" />
<line x1="380.52" y1="473.80" x2="380.52" y2="479.00" stroke="#231F20" stroke-width="2" />
<line x1="393.91" y1="473.80" x2="393.91" y2="479.00" stroke="#231F20" stroke-width="2" />
<line x1="407.30" y1="473.80" x2="407.30" y2="482.80" stroke="#231F20" stroke-width="2" />
<line x1="420.69" y1="473.80" x2="420.69" y2="479.00" stroke="#231F20" stroke-width="2" />
<line x1="434.08" y1="473.80" x2="434.08" y2="479.00" stroke="#231F20" stroke-width="2" />
<line x1="447.47" y1="473.80" x2="447.47" y2="479.00" stroke="#231F20" stroke-width="2" />
<line x1="460.86" y1="473.80" x2="460.86" y2="479.00" stroke="#231F20" stroke-width="2" />
<line x1="474.25" y1="473.80" x2="474.25" y2="482.80" stroke="#231F20" stroke-width="2" />
<line x1="487.64" y1="473.80" x2="487.64" y2="479.00" stroke="#231F20" stroke-width="2" />
<line x1="501.03" y1="473.80" x2="501.03" y2="479.00" stroke="#231F20" stroke-width="2" />
<line x1="514.42" y1="473.80" x2="514.42" y2="479.00" stroke="#231F20" stroke-width="2" />
<line x1="527.81" y1="473.80" x2="527.81" y2="479.00" stroke="#231F20" stroke-width="2" />
<line x1="541.20" y1="473.80" x2="541.20" y2="482.80" stroke="#231F20" stroke-width="2" />
<line x1="554.59" y1="473.80" x2="554.59" y2="479.00" stroke="#231F20" stroke-width="2" />
<line x1="567.98" y1="473.80" x2="567.98" y2="479.00" stroke="#231F20" stroke-width="2" />
<line x1="581.37" y1="473.80" x2="581.37" y2="479.00" stroke="#231F20" stroke-width="2" />
<line x1="594.76" y1="473.80" x2="594.76" y2="479.00" stroke="#231F20" stroke-width="2" />
<line x1="608.15" y1="473.80" x2="608.15" y2="482.80" stroke="#231F20" stroke-width="2" />
<line x1="608.30" y1="474.20" x2="617.80" y2="474.20" stroke="#231F20" stroke-width="2" />
<line x1="608.30" y1="464.50" x2="613.80" y2="464.50" stroke="#231F20" stroke-width="2" />
<line x1="608.30" y1="454.80" x2="613.80" y2="454.80" stroke="#231F20" stroke-width="2" />
<line x1="608.30" y1="445.10" x2="613.80" y2="445.10" stroke="#231F20" stroke-width="2" />
<line x1="608.30" y1="435.40" x2="613.80" y2="435.40" stroke="#231F20" stroke-width="2" />
<line x1="608.30" y1="425.70" x2="617.80" y2="425.70" stroke="#231F20" stroke-width="2" />
<line x1="608.30" y1="416.00" x2="613.80" y2="416.00" stroke="#231F20" stroke-width="2" />
<line x1="608.30" y1="406.30" x2="613.80" y2="406.30" stroke="#231F20" stroke-width="2" />
<line x1="608.30" y1="396.60" x2="613.80" y2="396.60" stroke="#231F20" stroke-width="2" />
<line x1="608.30" y1="386.90" x2="613.80" y2="386.90" stroke="#231F20" stroke-width="2" />
<line x1="608.30" y1="377.20" x2="617.80" y2="377.20" stroke="#231F20" stroke-width="2" />
<line x1="608.30" y1="367.50" x2="613.80" y2="367.50" stroke="#231F20" stroke-width="2" />
<line x1="608.30" y1="357.80" x2="613.80" y2="357.80" stroke="#231F20" stroke-width="2" />
<line x1="608.30" y1="348.10" x2="613.80" y2="348.10" stroke="#231F20" stroke-width="2" />
<line x1="608.30" y1="338.40" x2="613.80" y2="338.40" stroke="#231F20" stroke-width="2" />
<line x1="608.30" y1="328.70" x2="617.80" y2="328.70" stroke="#231F20" stroke-width="2" />
<line x1="608.30" y1="319.00" x2="613.80" y2="319.00" stroke="#231F20" stroke-width="2" />
<line x1="608.30" y1="309.30" x2="613.80" y2="309.30" stroke="#231F20" stroke-width="2" />
<line x1="608.30" y1="299.60" x2="613.80" y2="299.60" stroke="#231F20" stroke-width="2" />
<line x1="608.30" y1="289.90" x2="613.80" y2="289.90" stroke="#231F20" stroke-width="2" />
<line x1="608.30" y1="280.20" x2="617.80" y2="280.20" stroke="#231F20" stroke-width="2" />
<rect x="72.5" y="280.3" width="535.80" height="193.50" fill="none" stroke="#231F20" stroke-width="2.3"/>
<text x="35.26" y="320.80" font-size="15.8" fill="#231F20" textLength="16.52" lengthAdjust="spacingAndGlyphs">10</text>
<text x="43.47" y="383.90" font-size="15.8" fill="#231F20" textLength="8.26" lengthAdjust="spacingAndGlyphs">0</text>
<text x="25.33" y="447.00" font-size="15.8" fill="#231F20" textLength="26.48" lengthAdjust="spacingAndGlyphs">−10</text>
<text x="54.60" y="504.70" font-size="15.8" fill="#231F20" textLength="27.43" lengthAdjust="spacingAndGlyphs">−20</text>
<text x="121.65" y="504.70" font-size="15.8" fill="#231F20" textLength="27.48" lengthAdjust="spacingAndGlyphs">−15</text>
<text x="189.10" y="504.70" font-size="15.8" fill="#231F20" textLength="27.43" lengthAdjust="spacingAndGlyphs">−10</text>
<text x="261.12" y="504.70" font-size="15.8" fill="#231F20" textLength="19.13" lengthAdjust="spacingAndGlyphs">−5</text>
<text x="335.37" y="504.70" font-size="15.8" fill="#231F20" textLength="8.26" lengthAdjust="spacingAndGlyphs">0</text>
<text x="402.38" y="504.70" font-size="15.8" fill="#231F20" textLength="8.26" lengthAdjust="spacingAndGlyphs">5</text>
<text x="463.61" y="504.70" font-size="15.8" fill="#231F20" textLength="16.52" lengthAdjust="spacingAndGlyphs">10</text>
<text x="530.64" y="504.70" font-size="15.8" fill="#231F20" textLength="16.52" lengthAdjust="spacingAndGlyphs">15</text>
<text x="598.01" y="504.70" font-size="15.8" fill="#231F20" textLength="16.52" lengthAdjust="spacingAndGlyphs">20</text>
<text x="638.21" y="287.10" font-size="15.8" fill="#231F20" textLength="16.52" lengthAdjust="spacingAndGlyphs">20</text>
<text x="638.41" y="335.50" font-size="15.8" fill="#231F20" textLength="16.52" lengthAdjust="spacingAndGlyphs">10</text>
<text x="648.97" y="383.70" font-size="15.8" fill="#231F20" textLength="8.26" lengthAdjust="spacingAndGlyphs">0</text>
<text x="628.03" y="432.40" font-size="15.8" fill="#231F20" textLength="26.37" lengthAdjust="spacingAndGlyphs">−10</text>
<text x="628.01" y="480.70" font-size="15.8" fill="#231F20" textLength="27.11" lengthAdjust="spacingAndGlyphs">−20</text>
<text x="299.62" y="529.90" font-size="17.5" fill="#231F20" textLength="66.12" lengthAdjust="spacingAndGlyphs">Time (fs)</text>
<text transform="translate(13.40,390.50) rotate(-90)" x="-76.65" y="0" font-size="17.5" fill="#231F20" textLength="152.94" lengthAdjust="spacingAndGlyphs">Electric field (V/nm)</text>
<text transform="translate(682.00,384.85) rotate(-90)" x="-50.44" y="0" font-size="17.5" fill="#231F20" textLength="101.07" lengthAdjust="spacingAndGlyphs">Current (mA)</text>
<text x="80.64" y="306.90" font-size="32.8" fill="#231F20" font-weight="bold" stroke="#231F20" stroke-width="0.35" textLength="18.30" lengthAdjust="spacingAndGlyphs">c</text>
<text x="532.16" y="339.40" font-size="15.8" fill="#231F20" textLength="62.91" lengthAdjust="spacingAndGlyphs">Envelope</text>
<line x1="101.70" y1="293.60" x2="134.90" y2="293.60" stroke="#2A7AB9" stroke-width="1.8" />
<line x1="101.70" y1="318.90" x2="134.90" y2="318.90" stroke="#FCDAC2" stroke-width="1.8" />
<text x="139.85" y="297.50" font-size="13.5" fill="#231F20" textLength="10.10" lengthAdjust="spacingAndGlyphs">φ</text>
<text x="150.84" y="302.70" font-size="9.5" fill="#231F20" textLength="14.53" lengthAdjust="spacingAndGlyphs">CEP</text>
<text x="165.62" y="297.80" font-size="14" fill="#231F20" textLength="9.38" lengthAdjust="spacingAndGlyphs">=</text>
<text x="178.93" y="297.60" font-size="14" fill="#231F20" textLength="7.74" lengthAdjust="spacingAndGlyphs">0</text>
<text x="139.85" y="321.30" font-size="13.5" fill="#231F20" textLength="10.10" lengthAdjust="spacingAndGlyphs">φ</text>
<text x="150.84" y="326.50" font-size="9.5" fill="#231F20" textLength="14.53" lengthAdjust="spacingAndGlyphs">CEP</text>
<text x="165.62" y="321.90" font-size="14" fill="#231F20" textLength="9.38" lengthAdjust="spacingAndGlyphs">=</text>
<text x="178.84" y="321.40" font-size="14" fill="#231F20" textLength="8.18" lengthAdjust="spacingAndGlyphs">π</text>
<text x="188.56" y="321.40" font-size="14" fill="#231F20">/</text>
<text x="193.49" y="321.40" font-size="14" fill="#231F20" textLength="7.81" lengthAdjust="spacingAndGlyphs">2</text>
<line x1="78.30" y1="432.40" x2="110.50" y2="432.40" stroke="#2A7AB9" stroke-width="1.5" stroke-dasharray="6.9,3.8,3.0,3.9"/>
<line x1="78.30" y1="457.80" x2="110.50" y2="457.80" stroke="#FAD0AE" stroke-width="1.6" stroke-dasharray="6.9,3.8,3.0,3.9"/>
<text x="120.15" y="436.60" font-size="15.3" fill="#231F20" textLength="58.54" lengthAdjust="spacingAndGlyphs">Current (</text>
<text x="179.63" y="436.50" font-size="14" fill="#231F20" textLength="10.44" lengthAdjust="spacingAndGlyphs">φ</text>
<text x="189.61" y="442.00" font-size="9.3" fill="#231F20" textLength="15.80" lengthAdjust="spacingAndGlyphs">CEP</text>
<text x="205.45" y="437.20" font-size="15" fill="#231F20" textLength="9.02" lengthAdjust="spacingAndGlyphs">=</text>
<text x="218.19" y="436.60" font-size="15" fill="#231F20" textLength="7.21" lengthAdjust="spacingAndGlyphs">0</text>
<text x="226.63" y="436.60" font-size="15.3" fill="#231F20">)</text>
<text x="120.15" y="460.60" font-size="15.3" fill="#231F20" textLength="58.54" lengthAdjust="spacingAndGlyphs">Current (</text>
<text x="179.15" y="460.50" font-size="14" fill="#231F20" textLength="10.22" lengthAdjust="spacingAndGlyphs">φ</text>
<text x="189.27" y="465.90" font-size="9.3" fill="#231F20" textLength="15.58" lengthAdjust="spacingAndGlyphs">CEP</text>
<text x="205.28" y="461.20" font-size="15" fill="#231F20" textLength="8.65" lengthAdjust="spacingAndGlyphs">=</text>
<text x="217.40" y="460.60" font-size="15" fill="#231F20" textLength="8.86" lengthAdjust="spacingAndGlyphs">π</text>
<text x="227.72" y="460.60" font-size="15" fill="#231F20">/</text>
<text x="232.80" y="460.60" font-size="15" fill="#231F20" textLength="7.69" lengthAdjust="spacingAndGlyphs">2</text>
<text x="241.08" y="460.60" font-size="15.3" fill="#231F20">)</text>
</svg></body></html>
